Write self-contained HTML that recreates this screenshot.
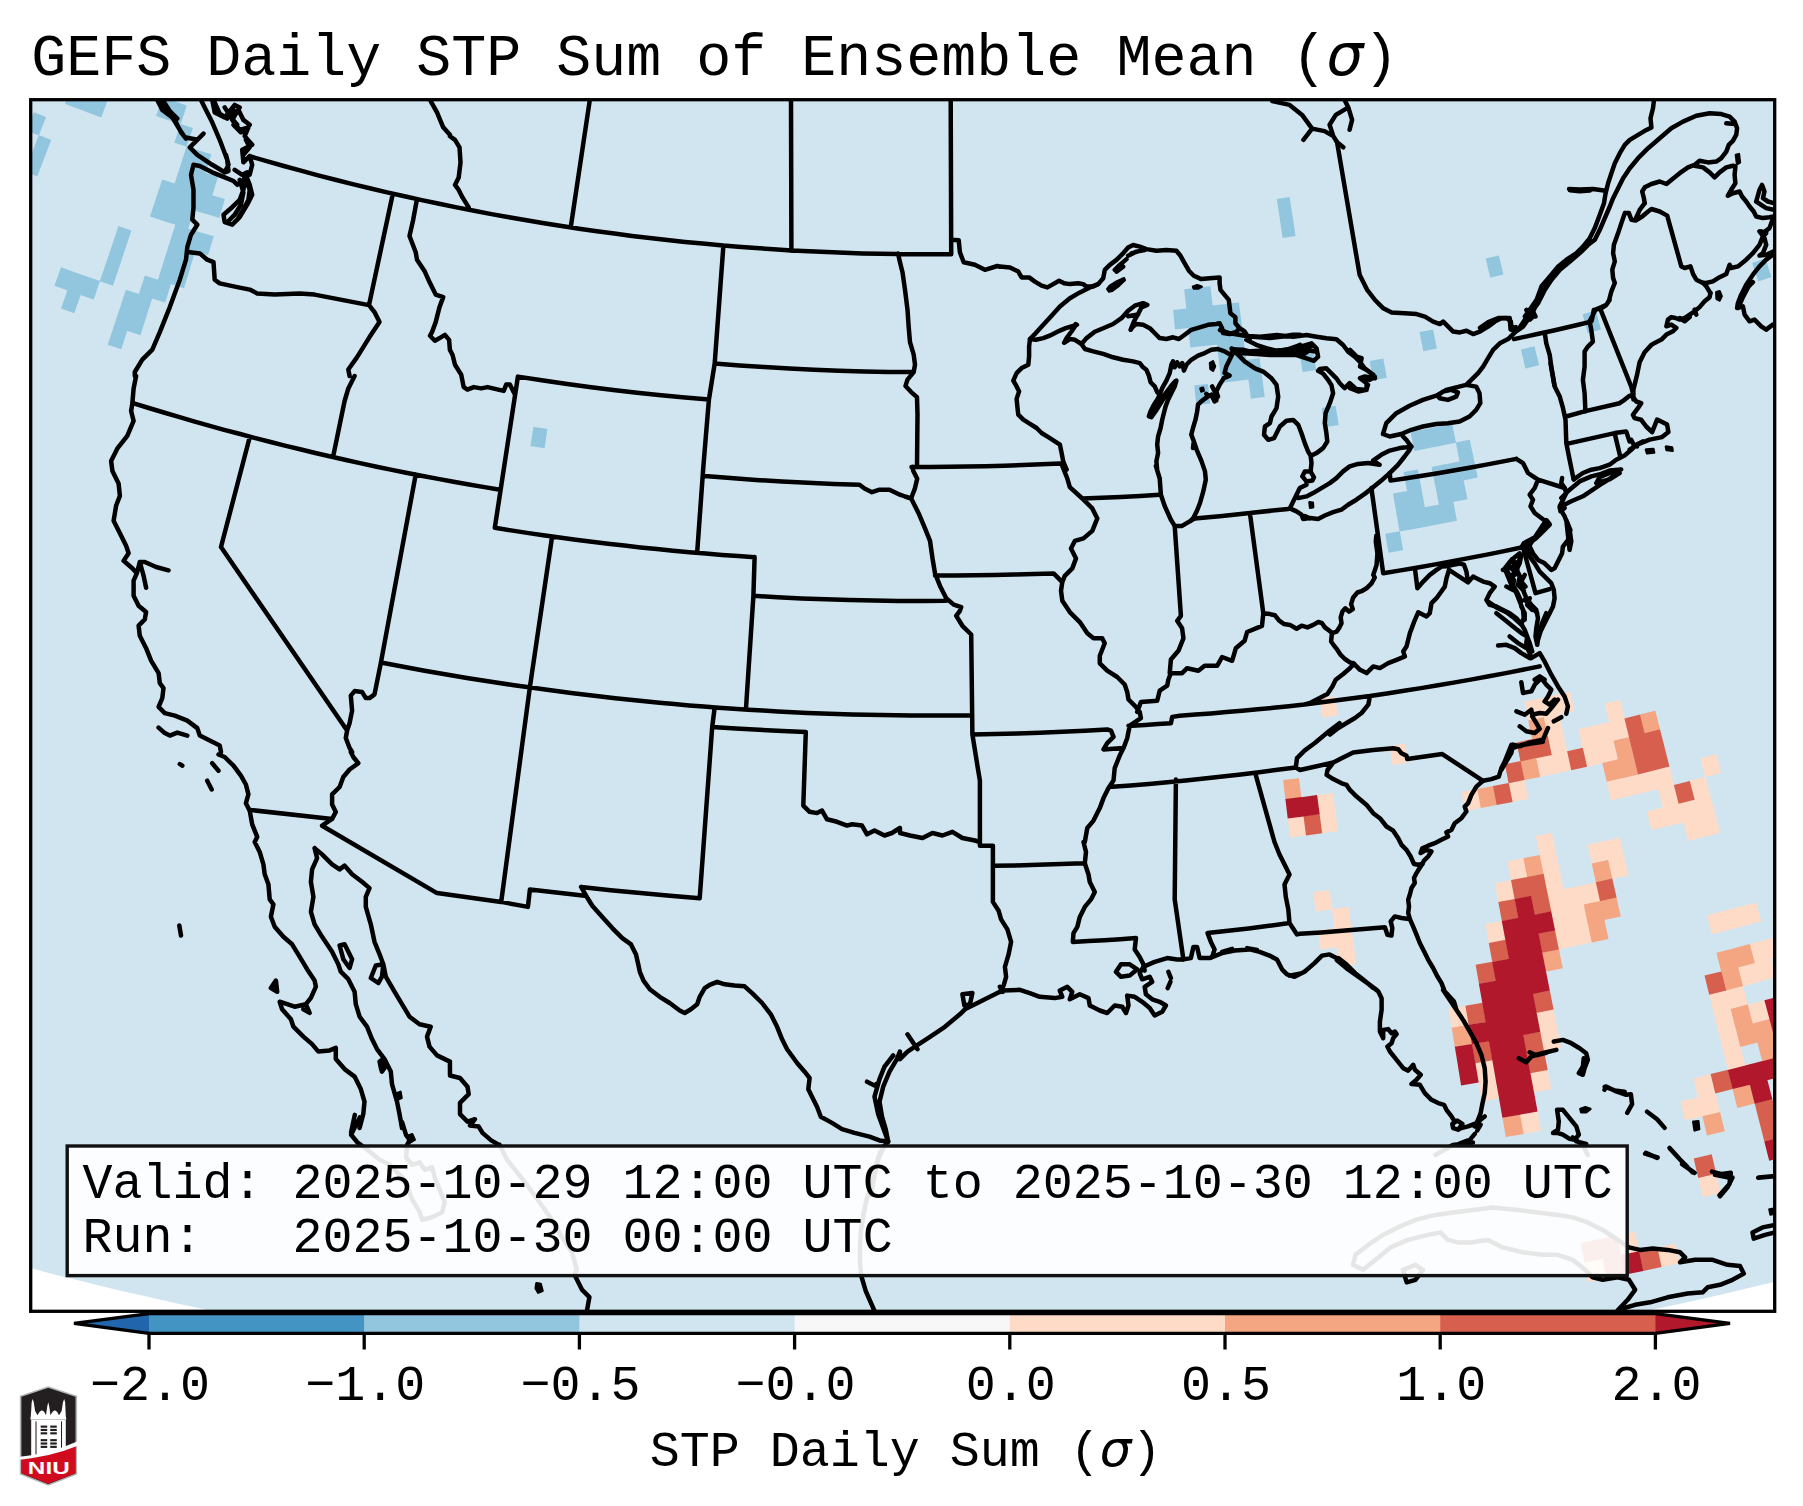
<!DOCTYPE html>
<html lang="en"><head><meta charset="utf-8"><title>GEFS Daily STP Sum of Ensemble Mean</title>
<style>html,body{margin:0;padding:0;background:#fff;}body{width:1803px;height:1506px;overflow:hidden;}svg{display:block;}text{font-family:"Liberation Mono","DejaVu Sans Mono",monospace;fill:#000;}.sg{font-family:"DejaVu Sans",sans-serif;font-style:italic;}.b{fill:none;stroke:#000;stroke-width:4.5;stroke-linejoin:round;stroke-linecap:round;}.c{fill:none;stroke:#000;stroke-width:4.5;stroke-linejoin:round;stroke-linecap:round;}</style></head><body>
<svg width="1803" height="1506" viewBox="0 0 1803 1506">
<rect width="1803" height="1506" fill="#fff"/>
<text x="31.3" y="75" font-size="58.33" xml:space="preserve">GEFS Daily STP Sum of Ensemble Mean (<tspan class="sg" font-size="58.33">σ</tspan>)</text>
<defs><clipPath id="ax"><rect x="30.7" y="99.7" width="1744.0" height="1211.6"/></clipPath></defs>
<g clip-path="url(#ax)">
<rect x="30.7" y="99.7" width="1744.0" height="1211.6" fill="#d1e5f0"/>
<path d="M1279.8 218.5 L1292.6 216.6 L1289.6 197.0 L1276.8 198.9Z M1282.6 237.9 L1295.6 235.9 L1292.6 216.3 L1279.7 218.2Z M1186.3 308.8 L1199.6 307.4 L1197.5 287.8 L1184.2 289.2Z M1199.4 307.4 L1212.7 305.9 L1210.5 286.3 L1197.3 287.8Z M1175.0 329.5 L1188.5 328.1 L1186.4 308.5 L1173.1 309.9Z M1188.3 328.1 L1201.7 326.7 L1199.6 307.1 L1186.2 308.5Z M1201.5 326.7 L1215.0 325.2 L1212.7 305.6 L1199.4 307.1Z M1214.8 325.2 L1228.2 323.6 L1225.8 304.1 L1212.5 305.6Z M1228.0 323.6 L1241.4 322.0 L1238.9 302.5 L1225.6 304.1Z M1190.3 347.4 L1203.8 345.9 L1201.7 326.4 L1188.3 327.8Z M1203.7 345.9 L1217.2 344.4 L1214.9 324.9 L1201.5 326.4Z M1217.0 344.4 L1230.5 342.8 L1228.2 323.3 L1214.7 324.9Z M1230.3 342.9 L1243.8 341.2 L1241.4 321.7 L1228.0 323.3Z M1219.2 363.6 L1232.8 362.0 L1230.5 342.5 L1217.0 344.1Z M1232.6 362.0 L1246.3 360.4 L1243.8 340.9 L1230.3 342.6Z M1221.4 382.8 L1235.1 381.2 L1232.8 361.7 L1219.2 363.3Z M1234.9 381.2 L1248.7 379.5 L1246.2 360.1 L1232.6 361.8Z M1248.5 379.5 L1262.2 377.8 L1259.6 358.3 L1246.0 360.1Z M1302.5 372.1 L1316.2 370.1 L1313.2 350.7 L1299.6 352.8Z M1196.3 405.0 L1210.2 403.5 L1208.0 384.0 L1194.3 385.5Z M1250.9 398.7 L1264.7 396.9 L1262.2 377.5 L1248.4 379.3Z M1324.7 427.2 L1338.7 425.0 L1335.6 405.8 L1321.8 407.9Z M530.5 446.1 L544.6 448.2 L547.4 428.9 L533.4 426.8Z M1490.2 277.7 L1503.4 274.6 L1498.9 255.4 L1485.8 258.5Z M1423.3 351.3 L1436.9 348.6 L1433.0 329.4 L1419.5 332.1Z M1373.1 380.3 L1386.8 377.8 L1383.3 358.6 L1369.7 361.0Z M1525.4 368.6 L1539.1 365.3 L1534.5 346.3 L1520.9 349.5Z M1587.6 333.1 L1601.0 329.5 L1595.9 310.6 L1582.6 314.2Z M1758.4 281.4 L1771.6 276.9 L1765.2 258.4 L1752.1 262.9Z M1414.2 451.0 L1428.3 448.3 L1424.6 429.2 L1410.6 431.8Z M1428.1 448.3 L1442.2 445.6 L1438.4 426.5 L1424.4 429.2Z M1442.0 445.6 L1456.0 442.8 L1452.2 423.7 L1438.2 426.5Z M1459.6 461.7 L1473.8 458.7 L1469.8 439.7 L1455.8 442.6Z M1407.1 491.3 L1421.4 488.6 L1417.9 469.5 L1403.6 472.1Z M1435.3 486.0 L1449.6 483.2 L1445.8 464.1 L1431.6 466.9Z M1449.4 483.3 L1463.7 480.4 L1459.8 461.3 L1445.6 464.2Z M1463.5 480.4 L1477.7 477.5 L1473.7 458.5 L1459.6 461.4Z M1396.3 512.6 L1410.7 510.1 L1407.3 490.9 L1392.9 493.5Z M1410.5 510.1 L1424.9 507.5 L1421.4 488.3 L1407.1 491.0Z M1438.9 504.8 L1453.3 502.0 L1449.5 482.9 L1435.3 485.7Z M1453.1 502.0 L1467.5 499.2 L1463.6 480.1 L1449.3 483.0Z M1399.6 531.5 L1414.1 528.9 L1410.7 509.8 L1396.2 512.4Z M1413.9 528.9 L1428.4 526.3 L1424.9 507.2 L1410.5 509.8Z M1428.2 526.3 L1442.7 523.6 L1439.1 504.5 L1424.7 507.2Z M1442.5 523.6 L1457.0 520.8 L1453.3 501.7 L1438.9 504.5Z M1388.5 552.8 L1403.1 550.3 L1399.8 531.2 L1385.2 533.7Z M64.9 103.7 L77.1 108.4 L84.1 89.9 L72.0 85.2Z M77.0 108.3 L89.2 112.9 L96.1 94.3 L84.0 89.8Z M89.0 112.9 L101.3 117.4 L108.1 98.8 L95.9 94.3Z M26.5 130.6 L38.9 135.5 L46.1 117.1 L33.8 112.2Z M31.7 153.5 L44.2 158.3 L51.2 139.9 L38.8 135.1Z M24.6 171.5 L37.2 176.4 L44.3 158.0 L31.8 153.2Z M156.1 116.0 L168.4 120.2 L174.7 101.4 L162.5 97.2Z M168.2 120.1 L180.6 124.2 L186.8 105.4 L174.6 101.3Z M174.3 142.7 L186.7 146.8 L192.8 127.9 L180.5 123.9Z M180.5 165.3 L193.1 169.3 L199.1 150.4 L186.6 146.4Z M192.9 169.2 L205.5 173.2 L211.4 154.3 L198.9 150.4Z M174.6 183.8 L187.2 187.8 L193.2 169.0 L180.6 165.0Z M187.0 187.8 L199.7 191.8 L205.6 172.9 L193.0 168.9Z M199.6 191.7 L212.3 195.6 L218.0 176.7 L205.4 172.8Z M156.0 198.1 L168.8 202.3 L174.8 183.6 L162.2 179.4Z M168.6 202.2 L181.4 206.3 L187.3 187.6 L174.7 183.5Z M181.2 206.3 L194.0 210.3 L199.8 191.5 L187.1 187.5Z M193.8 210.2 L206.6 214.2 L212.4 195.3 L199.6 191.4Z M206.4 214.1 L219.2 218.0 L224.9 199.1 L212.2 195.3Z M150.0 216.6 L162.8 220.8 L168.9 202.0 L156.1 197.9Z M162.6 220.7 L175.5 224.8 L181.4 206.1 L168.7 202.0Z M175.3 224.8 L188.2 228.8 L194.1 210.0 L181.3 206.0Z M169.4 243.2 L182.4 247.3 L188.3 228.5 L175.4 224.5Z M182.2 247.2 L195.3 251.3 L201.0 232.5 L188.1 228.5Z M195.1 251.2 L208.1 255.1 L213.8 236.3 L200.8 232.4Z M163.6 261.6 L176.7 265.8 L182.5 247.0 L169.5 242.9Z M176.5 265.7 L189.6 269.7 L195.3 251.0 L182.3 247.0Z M157.8 280.0 L170.9 284.2 L176.8 265.5 L163.7 261.4Z M170.8 284.1 L184.0 288.2 L189.7 269.5 L176.6 265.4Z M138.8 294.2 L152.1 298.5 L158.0 279.8 L144.9 275.6Z M151.9 298.4 L165.2 302.6 L171.0 283.9 L157.8 279.8Z M119.8 308.2 L133.1 312.6 L139.1 294.0 L125.9 289.7Z M132.9 312.5 L146.3 316.8 L152.2 298.2 L138.9 293.9Z M113.7 326.5 L127.2 330.9 L133.2 312.3 L119.9 308.0Z M127.0 330.8 L140.5 335.2 L146.4 316.6 L133.0 312.3Z M107.7 344.8 L121.3 349.2 L127.3 330.6 L113.8 326.2Z M112.2 244.7 L125.2 249.1 L131.4 230.5 L118.5 226.1Z M106.0 263.0 L119.1 267.4 L125.3 248.8 L112.3 244.4Z M99.8 281.2 L113.0 285.7 L119.2 267.1 L106.1 262.7Z M54.4 285.7 L67.6 290.4 L74.1 272.0 L61.0 267.3Z M67.4 290.4 L80.6 295.0 L87.1 276.6 L73.9 272.0Z M80.5 295.0 L93.7 299.5 L100.0 281.0 L86.9 276.5Z M61.0 308.5 L74.3 313.2 L80.7 294.7 L67.5 290.1Z" fill="#92c5de"/>
<path d="M1539.6 855.2 L1555.9 851.9 L1551.9 832.8 L1535.7 836.1Z M1511.0 880.4 L1527.4 877.2 L1523.7 858.1 L1507.3 861.3Z M1543.4 874.0 L1559.8 870.6 L1555.8 851.6 L1539.5 854.9Z M1591.8 863.8 L1608.1 860.1 L1603.8 841.1 L1587.6 844.8Z M1607.9 860.2 L1624.2 856.5 L1619.8 837.5 L1603.6 841.2Z M1498.3 902.4 L1514.9 899.2 L1511.2 880.1 L1494.8 883.2Z M1547.2 892.8 L1563.7 889.4 L1559.7 870.4 L1543.3 873.7Z M1612.1 878.9 L1628.5 875.2 L1624.1 856.2 L1607.8 859.9Z M1551.0 911.7 L1567.6 908.3 L1563.6 889.2 L1547.1 892.6Z M1567.4 908.3 L1584.0 904.8 L1579.9 885.7 L1563.4 889.2Z M1583.7 904.9 L1600.3 901.3 L1596.1 882.2 L1579.6 885.8Z M1488.9 943.2 L1505.6 940.1 L1502.0 920.9 L1485.4 924.0Z M1554.9 930.5 L1571.6 927.1 L1567.6 908.0 L1551.0 911.4Z M1571.3 927.2 L1588.0 923.6 L1583.9 904.5 L1567.3 908.0Z M1558.7 949.4 L1575.5 946.0 L1571.5 926.8 L1554.8 930.3Z M1575.2 946.0 L1592.0 942.5 L1587.9 923.3 L1571.2 926.9Z M1451.7 1028.0 L1468.9 1025.1 L1465.6 1005.7 L1448.5 1008.6Z M1540.1 1031.9 L1557.3 1028.5 L1553.5 1009.2 L1536.4 1012.6Z M1543.7 1050.9 L1561.1 1047.5 L1557.3 1028.2 L1540.0 1031.6Z M1478.4 1082.5 L1496.0 1079.4 L1492.5 1060.0 L1475.1 1063.0Z M1481.7 1101.6 L1499.3 1098.6 L1495.9 1079.2 L1478.4 1082.2Z M1533.7 1092.4 L1551.3 1089.0 L1547.6 1069.7 L1530.1 1073.0Z M1523.3 1133.9 L1541.2 1130.7 L1537.5 1111.2 L1519.8 1114.4Z M1528.3 720.8 L1543.8 717.5 L1539.8 698.5 L1524.3 701.8Z M1543.6 717.5 L1559.1 714.1 L1555.0 695.2 L1539.5 698.6Z M1558.9 714.2 L1574.4 710.7 L1570.2 691.8 L1554.7 695.3Z M1547.6 736.2 L1563.2 732.8 L1559.1 713.9 L1543.5 717.2Z M1609.2 722.3 L1624.7 718.6 L1620.2 699.7 L1604.7 703.5Z M1551.6 754.9 L1567.3 751.5 L1563.2 732.5 L1547.5 735.9Z M1582.6 748.1 L1598.3 744.5 L1594.0 725.6 L1578.3 729.2Z M1598.1 744.6 L1613.8 740.9 L1609.3 722.0 L1593.7 725.6Z M1613.6 740.9 L1629.2 737.2 L1624.7 718.3 L1609.1 722.1Z M1540.0 776.9 L1555.8 773.6 L1551.8 754.6 L1536.0 757.9Z M1555.6 773.6 L1571.5 770.2 L1567.3 751.2 L1551.5 754.6Z M1586.8 766.7 L1602.6 763.1 L1598.3 744.2 L1582.5 747.8Z M1602.4 763.2 L1618.2 759.5 L1613.7 740.6 L1598.0 744.3Z M1464.9 811.0 L1481.0 808.1 L1477.4 789.0 L1461.5 791.9Z M1512.3 802.0 L1528.4 798.8 L1524.5 779.8 L1508.6 783.0Z M1611.0 800.5 L1627.0 796.7 L1622.5 777.8 L1606.6 781.6Z M1626.8 796.8 L1642.8 793.0 L1638.2 774.1 L1622.3 777.9Z M1642.5 793.0 L1658.5 789.1 L1653.8 770.3 L1637.9 774.1Z M1658.2 789.2 L1674.2 785.2 L1669.4 766.3 L1653.6 770.3Z M1705.3 777.1 L1721.1 772.9 L1716.1 754.1 L1700.3 758.3Z M1662.9 807.8 L1678.9 803.8 L1674.1 784.9 L1658.2 788.9Z M1694.4 799.8 L1710.4 795.6 L1705.4 776.8 L1689.5 780.9Z M1651.5 830.3 L1667.7 826.3 L1663.0 807.4 L1647.0 811.4Z M1667.5 826.4 L1683.6 822.3 L1678.8 803.5 L1662.8 807.5Z M1683.4 822.4 L1699.5 818.3 L1694.6 799.4 L1678.6 803.5Z M1699.2 818.3 L1715.3 814.1 L1710.3 795.3 L1694.4 799.5Z M1688.1 841.0 L1704.3 836.8 L1699.4 818.0 L1683.3 822.1Z M1704.1 836.9 L1720.3 832.7 L1715.3 813.8 L1699.2 818.0Z M1711.7 934.3 L1728.5 930.0 L1723.5 911.0 L1706.9 915.3Z M1728.2 930.0 L1744.9 925.7 L1739.9 906.7 L1723.3 911.1Z M1744.7 925.7 L1761.3 921.3 L1756.2 902.4 L1739.7 906.8Z M1754.6 963.1 L1771.4 958.6 L1766.3 939.6 L1749.5 944.1Z M1771.2 958.6 L1788.1 954.0 L1782.8 935.1 L1766.1 939.7Z M1742.8 986.2 L1759.8 981.7 L1754.7 962.7 L1737.8 967.2Z M1759.5 981.8 L1776.5 977.2 L1771.4 958.3 L1754.5 962.8Z M1713.9 1013.5 L1731.0 1009.2 L1726.2 990.1 L1709.1 994.4Z M1730.8 1009.3 L1747.9 1004.9 L1743.0 985.8 L1725.9 990.2Z M1718.5 1032.4 L1735.8 1028.0 L1731.0 1008.9 L1713.8 1013.2Z M1752.5 1023.8 L1769.7 1019.2 L1764.7 1000.2 L1747.6 1004.7Z M1723.2 1051.3 L1740.6 1046.9 L1735.7 1027.8 L1718.5 1032.1Z M1727.9 1070.2 L1745.4 1065.8 L1740.5 1046.6 L1723.2 1051.0Z M1697.9 1097.5 L1715.6 1093.3 L1710.9 1074.0 L1693.4 1078.2Z M1685.0 1120.6 L1702.7 1116.5 L1698.1 1097.2 L1680.5 1101.3Z M1702.4 1116.5 L1720.2 1112.3 L1715.5 1093.0 L1697.9 1097.2Z M1702.7 1197.2 L1720.8 1192.9 L1716.2 1173.5 L1698.2 1177.7Z M1620.8 1255.4 L1639.3 1251.6 L1635.2 1231.9 L1616.8 1235.7Z M1588.1 1282.1 L1606.7 1278.4 L1602.8 1258.7 L1584.3 1262.3Z M1661.3 1267.2 L1679.9 1263.2 L1675.5 1243.5 L1657.1 1247.5Z M1319.4 814.4 L1335.5 812.2 L1332.9 793.0 L1316.9 795.1Z M1290.0 837.4 L1306.2 835.4 L1303.8 816.1 L1287.7 818.1Z M1321.9 833.3 L1338.1 831.2 L1335.5 811.9 L1319.4 814.1Z M1392.5 765.1 L1408.3 762.6 L1405.2 743.4 L1389.5 746.0Z M1315.6 911.5 L1332.2 909.3 L1329.6 890.0 L1313.1 892.1Z M1334.4 928.4 L1351.1 926.2 L1348.5 906.8 L1331.9 909.1Z M1320.4 949.6 L1337.2 947.4 L1334.7 928.1 L1317.9 930.2Z M1336.9 947.5 L1353.7 945.2 L1351.1 925.9 L1334.4 928.1Z M1339.5 966.5 L1356.4 964.3 L1353.7 944.9 L1336.9 947.2Z M1322.3 717.6 L1337.9 715.4 L1335.1 696.2 L1319.7 698.4Z" fill="#fddbc7"/>
<path d="M1527.2 877.3 L1543.6 874.0 L1539.7 854.9 L1523.4 858.2Z M1595.9 882.5 L1612.4 878.9 L1608.1 859.9 L1591.7 863.5Z M1587.7 923.7 L1604.4 920.1 L1600.2 901.0 L1583.7 904.6Z M1604.2 920.1 L1620.8 916.4 L1616.5 897.4 L1600.0 901.0Z M1591.8 942.5 L1608.5 938.9 L1604.4 919.8 L1587.7 923.4Z M1545.8 971.7 L1562.8 968.3 L1558.9 949.1 L1542.1 952.5Z M1454.8 1047.1 L1472.2 1044.2 L1468.9 1024.8 L1451.7 1027.7Z M1505.8 1137.1 L1523.6 1133.9 L1520.1 1114.4 L1502.4 1117.5Z M1532.2 739.5 L1547.8 736.2 L1543.8 717.2 L1528.2 720.5Z M1644.4 733.5 L1660.1 729.5 L1655.3 710.7 L1639.7 714.6Z M1524.3 780.1 L1540.2 776.9 L1536.2 757.9 L1520.4 761.1Z M1618.0 759.5 L1633.7 755.8 L1629.2 736.9 L1613.5 740.7Z M1480.8 808.1 L1496.8 805.1 L1493.1 786.0 L1477.2 789.0Z M1606.7 781.8 L1622.6 778.1 L1618.1 759.2 L1602.3 762.9Z M1622.4 778.2 L1638.2 774.4 L1633.7 755.5 L1617.9 759.3Z M1721.2 971.7 L1738.2 967.4 L1733.2 948.4 L1716.4 952.7Z M1737.9 967.4 L1754.8 963.0 L1749.8 944.0 L1733.0 948.5Z M1726.0 990.5 L1743.0 986.1 L1738.1 967.1 L1721.2 971.4Z M1735.5 1028.1 L1752.8 1023.7 L1747.8 1004.6 L1730.7 1009.0Z M1740.3 1047.0 L1757.7 1042.5 L1752.7 1023.4 L1735.5 1027.8Z M1757.4 1042.6 L1774.7 1038.0 L1769.7 1019.0 L1752.4 1023.5Z M1762.3 1061.4 L1779.7 1056.9 L1774.6 1037.8 L1757.3 1042.3Z M1737.3 1108.1 L1755.0 1103.6 L1750.1 1084.4 L1732.5 1088.8Z M1707.0 1135.6 L1724.8 1131.3 L1720.1 1112.0 L1702.4 1116.2Z M1285.4 799.4 L1301.4 797.4 L1299.0 778.2 L1283.1 780.1Z" fill="#f4a582"/>
<path d="M1514.6 899.3 L1531.2 896.1 L1527.4 876.9 L1511.0 880.1Z M1530.9 896.1 L1547.4 892.8 L1543.6 873.7 L1527.1 877.0Z M1501.9 921.3 L1518.5 918.1 L1514.8 898.9 L1498.3 902.1Z M1534.6 915.0 L1551.3 911.6 L1547.4 892.5 L1530.9 895.8Z M1600.0 901.3 L1616.6 897.6 L1612.3 878.6 L1595.8 882.3Z M1492.3 962.2 L1509.2 959.1 L1505.6 939.8 L1488.8 942.9Z M1542.1 952.7 L1558.9 949.4 L1555.0 930.2 L1538.3 933.6Z M1479.0 984.1 L1496.0 981.1 L1492.5 961.8 L1475.6 964.8Z M1468.7 1025.1 L1485.9 1022.1 L1482.5 1002.8 L1465.4 1005.8Z M1536.4 1012.9 L1553.6 1009.5 L1549.8 990.3 L1532.7 993.6Z M1475.2 1063.3 L1492.6 1060.3 L1489.2 1040.9 L1471.9 1043.9Z M1526.6 1054.2 L1544.0 1050.9 L1540.3 1031.5 L1523.0 1034.8Z M1530.2 1073.3 L1547.7 1069.9 L1543.9 1050.6 L1526.6 1053.9Z M1520.5 761.4 L1536.3 758.1 L1532.3 739.1 L1516.6 742.4Z M1536.1 758.2 L1551.8 754.9 L1547.8 735.9 L1532.1 739.2Z M1629.0 737.2 L1644.7 733.4 L1640.0 714.6 L1624.4 718.4Z M1508.6 783.3 L1524.5 780.1 L1520.7 761.1 L1504.9 764.2Z M1571.2 770.2 L1587.1 766.7 L1582.8 747.8 L1567.1 751.3Z M1633.5 755.8 L1649.3 752.0 L1644.6 733.1 L1628.9 737.0Z M1649.0 752.0 L1664.8 748.1 L1660.0 729.3 L1644.4 733.2Z M1496.6 805.1 L1512.6 802.0 L1508.8 782.9 L1492.9 786.0Z M1638.0 774.4 L1653.9 770.5 L1649.2 751.7 L1633.4 755.5Z M1653.6 770.6 L1669.5 766.6 L1664.7 747.8 L1649.0 751.7Z M1678.6 803.8 L1694.7 799.7 L1689.8 780.9 L1673.9 785.0Z M1709.2 994.7 L1726.3 990.4 L1721.4 971.4 L1704.5 975.6Z M1715.3 1093.4 L1732.9 1089.0 L1728.1 1069.8 L1710.6 1074.1Z M1759.5 1122.7 L1777.3 1118.1 L1772.3 1098.9 L1754.7 1103.4Z M1764.4 1141.7 L1782.2 1137.1 L1777.2 1117.9 L1759.5 1122.4Z M1698.2 1178.0 L1716.3 1173.8 L1711.7 1154.3 L1693.7 1158.5Z M1584.4 1262.6 L1602.9 1259.0 L1599.0 1239.3 L1580.6 1242.9Z M1602.6 1259.0 L1621.1 1255.3 L1617.1 1235.7 L1598.7 1239.3Z M1606.4 1278.5 L1625.0 1274.8 L1621.0 1255.0 L1602.5 1258.8Z M1643.1 1271.1 L1661.6 1267.1 L1657.4 1247.5 L1638.9 1251.4Z M1306.0 835.4 L1322.2 833.3 L1319.6 814.1 L1303.5 816.1Z" fill="#d6604d"/>
<path d="M1518.3 918.2 L1534.9 914.9 L1531.1 895.8 L1514.6 899.0Z M1505.4 940.2 L1522.1 937.0 L1518.4 917.8 L1501.8 921.0Z M1521.9 937.1 L1538.6 933.8 L1534.8 914.6 L1518.2 917.9Z M1538.4 933.8 L1555.1 930.5 L1551.2 911.3 L1534.6 914.7Z M1508.9 959.1 L1525.8 955.9 L1522.1 936.7 L1505.3 939.9Z M1525.5 956.0 L1542.4 952.7 L1538.6 933.5 L1521.8 936.8Z M1495.7 981.1 L1512.7 978.0 L1509.1 958.8 L1492.2 961.9Z M1512.4 978.1 L1529.4 974.9 L1525.7 955.6 L1508.9 958.8Z M1529.2 974.9 L1546.1 971.6 L1542.3 952.4 L1525.5 955.7Z M1482.3 1003.1 L1499.4 1000.1 L1495.9 980.8 L1478.9 983.8Z M1499.1 1000.1 L1516.2 997.0 L1512.6 977.7 L1495.7 980.9Z M1516.0 997.1 L1533.0 993.8 L1529.3 974.6 L1512.4 977.8Z M1532.8 993.9 L1549.8 990.6 L1546.0 971.3 L1529.1 974.6Z M1485.6 1022.2 L1502.8 1019.1 L1499.4 999.8 L1482.3 1002.9Z M1502.6 1019.2 L1519.8 1016.0 L1516.2 996.7 L1499.1 999.9Z M1519.5 1016.1 L1536.7 1012.8 L1533.0 993.5 L1515.9 996.8Z M1471.9 1044.2 L1489.2 1041.2 L1485.8 1021.9 L1468.6 1024.8Z M1489.0 1041.3 L1506.3 1038.2 L1502.8 1018.8 L1485.6 1021.9Z M1506.0 1038.2 L1523.3 1035.1 L1519.7 1015.7 L1502.5 1018.9Z M1523.1 1035.1 L1540.3 1031.8 L1536.6 1012.5 L1519.5 1015.8Z M1458.0 1066.2 L1475.4 1063.3 L1472.1 1043.9 L1454.8 1046.8Z M1492.3 1060.4 L1509.7 1057.3 L1506.2 1037.9 L1488.9 1041.0Z M1509.5 1057.3 L1526.9 1054.1 L1523.3 1034.8 L1506.0 1037.9Z M1461.1 1085.4 L1478.7 1082.4 L1475.4 1063.0 L1457.9 1065.9Z M1495.7 1079.5 L1513.2 1076.4 L1509.7 1057.0 L1492.3 1060.1Z M1512.9 1076.4 L1530.4 1073.2 L1526.8 1053.8 L1509.4 1057.0Z M1499.1 1098.6 L1516.7 1095.5 L1513.2 1076.1 L1495.6 1079.2Z M1516.4 1095.6 L1534.0 1092.3 L1530.4 1072.9 L1512.9 1076.1Z M1502.4 1117.8 L1520.1 1114.7 L1516.6 1095.2 L1499.0 1098.4Z M1519.9 1114.7 L1537.6 1111.5 L1534.0 1092.0 L1516.4 1095.3Z M1769.5 1019.3 L1786.7 1014.7 L1781.5 995.7 L1764.4 1000.3Z M1774.5 1038.1 L1791.7 1033.5 L1786.6 1014.4 L1769.4 1019.0Z M1732.6 1089.1 L1750.2 1084.7 L1745.3 1065.5 L1727.8 1069.9Z M1749.9 1084.8 L1767.5 1080.3 L1762.5 1061.1 L1745.0 1065.6Z M1767.2 1080.3 L1784.7 1075.7 L1779.6 1056.6 L1762.2 1061.2Z M1754.7 1103.7 L1772.4 1099.2 L1767.4 1080.0 L1749.8 1084.5Z M1769.2 1160.8 L1787.2 1156.2 L1782.1 1136.9 L1764.3 1141.4Z M1624.8 1274.8 L1643.3 1271.0 L1639.2 1251.3 L1620.8 1255.1Z M1287.7 818.4 L1303.8 816.4 L1301.4 797.1 L1285.4 799.1Z M1303.6 816.4 L1319.7 814.3 L1317.1 795.1 L1301.2 797.2Z" fill="#b2182b"/>
<path d="M-185.1 1204.1 L-167.1 1210.0 L-149.1 1215.8 L-131.1 1221.5 L-113.1 1227.2 L-95.0 1232.7 L-76.9 1238.1 L-58.8 1243.4 L-40.7 1248.7 L-22.5 1253.8 L-4.3 1258.8 L14.0 1263.8 L32.2 1268.6 L50.5 1273.4 L68.8 1278.0 L87.1 1282.6 L105.5 1287.0 L123.9 1291.4 L142.3 1295.6 L160.7 1299.8 L179.2 1303.9 L197.6 1307.8 L216.1 1311.7 L234.7 1315.4 L253.2 1319.1 L271.7 1322.7 L290.3 1326.1 L308.9 1329.5 L327.5 1332.8 L346.1 1335.9 L364.8 1339.0 L383.4 1342.0 L402.1 1344.8 L420.8 1347.6 L439.5 1350.3 L458.2 1352.8 L476.9 1355.3 L495.7 1357.7 L514.4 1359.9 L533.2 1362.1 L552.0 1364.2 L570.8 1366.1 L589.6 1368.0 L608.4 1369.8 L627.2 1371.4 L646.0 1373.0 L664.9 1374.5 L683.7 1375.8 L702.5 1377.1 L721.4 1378.3 L740.3 1379.3 L759.1 1380.3 L778.0 1381.1 L796.9 1381.9 L815.8 1382.6 L834.6 1383.1 L853.5 1383.6 L872.4 1383.9 L891.3 1384.2 L910.2 1384.3 L929.1 1384.4 L948.0 1384.3 L966.9 1384.2 L985.8 1383.9 L1004.6 1383.6 L1023.5 1383.1 L1042.4 1382.6 L1061.3 1381.9 L1080.2 1381.2 L1099.0 1380.3 L1117.9 1379.3 L1136.8 1378.3 L1155.6 1377.1 L1174.5 1375.9 L1193.3 1374.5 L1212.2 1373.0 L1231.0 1371.5 L1249.8 1369.8 L1268.6 1368.1 L1287.4 1366.2 L1306.2 1364.2 L1325.0 1362.2 L1343.7 1360.0 L1362.5 1357.7 L1381.2 1355.4 L1400.0 1352.9 L1418.7 1350.3 L1437.4 1347.7 L1456.1 1344.9 L1474.8 1342.0 L1493.4 1339.1 L1512.1 1336.0 L1530.7 1332.9 L1549.3 1329.6 L1567.9 1326.2 L1586.4 1322.8 L1605.0 1319.2 L1623.5 1315.5 L1642.0 1311.8 L1660.5 1307.9 L1679.0 1304.0 L1697.5 1299.9 L1715.9 1295.8 L1734.3 1291.5 L1752.7 1287.1 L1771.0 1282.7 L1789.4 1278.1 L1807.7 1273.5 L1826.0 1268.8 L1844.2 1263.9 L1862.5 1259.0 L1880.7 1253.9 L1898.9 1248.8 L1917.0 1243.6 L1935.1 1238.3 L1953.2 1232.8 L1800 1400 L0 1400Z" fill="#fff"/>
<path class="b" d="M249.6 156.2 L266.7 161.2 L283.8 166 L300.9 170.7 L318.1 175.3 L335.3 179.8 L352.6 184.1 L369.8 188.3 L387.1 192.4 L404.5 196.3 L421.8 200.1 L439.2 203.8 L456.6 207.4 L474.1 210.8 L491.5 214.1 L509 217.3 L526.5 220.3 L544.1 223.2 L561.6 226 L579.2 228.7 L596.8 231.2 L614.4 233.6 L632 235.9 L649.7 238 L667.3 240 L685 241.9 L702.7 243.6 L720.4 245.2 L738.1 246.7 L755.8 248 L773.6 249.3 L791.3 250.4 L809.1 251.3 L826.8 252.1 L844.6 252.8 L862.3 253.4 L880.1 253.8 L897.9 254.1 L915.6 254.3 L933.4 254.3 L951.2 254.2 M392.5 195.3 L369 305.1 L374.5 312.1 L379.5 322.1 L369.5 337.1 L357.1 357.1 L348.3 369.5 L349.6 376 M416.5 201.7 L413.2 219.7 L409.5 236 L415.7 252.2 L417 259.7 L424.5 270.9 L429.5 282.1 L435.7 294.6 L443.2 297.1 L439.5 307.1 L435.7 322.1 L432 332.1 L430 335.8 L430 335.8 L434.9 340.8 L440.8 337.4 L444.9 334.9 L449.1 339.9 M430.7 101.1 L437 112.4 L443.2 127.3 L449.9 134.8 M189.8 252.2 L199.8 253.4 L207.2 259.7 L213.5 262.2 L214.7 279.7 L219.7 283.4 L237.2 287.1 L249.7 289.6 L257.2 293.4 L274.7 294.6 L299.6 293.4 L314.6 294.6 L369 305.1 M133.8 403.3 L148.8 408 L163.8 412.5 L178.8 416.9 L193.9 421.3 L209 425.6 L224.1 429.8 L239.3 433.8 L254.4 437.8 L269.6 441.8 L284.8 445.6 L300.1 449.3 L315.3 453 L330.6 456.5 L345.9 460 L361.2 463.4 L376.6 466.7 L391.9 469.9 L407.3 473 L422.7 476 L438.1 478.9 L453.6 481.7 L469 484.5 L484.5 487.1 L499.9 489.7 M249.7 437.2 L221 547 L347.1 730.6 M354.6 376 L348.3 388.5 L344.6 401 L333.3 455.9 M415.7 474.6 L380.8 663.1 L374.5 694.4 L369.5 698.1 L365.8 698.1 L362 691.9 L354.6 691.1 L350.8 695.6 L352.1 710.6 L349.6 723.1 L347.1 730.6 L345.8 738 L349.6 748 L352.1 752 M249.7 809.9 L332.1 818.9 M350.8 752 L353.3 757 L358.3 763.2 L349.6 769.5 L343.3 777 L339.6 787 L332.1 794.4 L332.1 804.4 L335.8 811.9 L332.1 818.9 L322.1 825.7 L437 893.1 L501.2 901.9 L527.9 906.9 L529.9 889.4 L584.8 895.7 M589.8 100 L570.8 226.8 M791 99 L791.4 250.8 M723.4 245.6 L714.7 363.4 L708.9 399.6 L703.4 466 M714.7 363.4 L739.5 365.4 L764.4 367.1 L789.2 368.5 L814.1 369.7 L839 370.7 L863.9 371.4 L888.8 371.9 L913.7 372.1 M517.9 376.6 L541.7 380.3 L565.5 383.7 L589.3 386.9 L613.2 389.9 L637.1 392.7 L661 395.2 L685 397.5 L708.9 399.6 M517.9 376.6 L494.9 527.2 M450 136.2 L455 139.9 L459.5 147.4 L460.5 162.4 L458.7 177.4 L455 184.9 L458.7 189.9 L462.5 197.4 L468.7 207.4 M449.1 339.9 L449.9 349.9 L452.5 354.7 L455 364.7 L461.2 374.6 L463.7 387.1 L467.5 389.6 L473.7 387.1 L481.2 388.4 L487.5 387.1 L503.7 390.9 L506.2 384.6 L509.9 384.6 L514.4 393.4 M494.8 527.8 L511 530.4 L527.1 532.9 L543.3 535.2 L559.5 537.5 L575.7 539.7 L591.9 541.8 L608.1 543.8 L624.4 545.6 L640.6 547.4 L656.9 549.1 L673.1 550.7 L689.4 552.2 L705.7 553.6 L722 554.9 L738.3 556.1 L754.6 557.2 M551.9 537.9 L529.9 687 L501.2 901.9 M380.9 662.5 L395.5 665.3 L410 668 L424.6 670.7 L439.2 673.2 L453.8 675.7 L468.4 678.2 L483.1 680.5 L497.7 682.8 L512.4 685 L527.1 687.1 L541.7 689.1 L556.4 691.1 L571.1 693 L585.8 694.8 L600.6 696.6 L615.3 698.2 L630 699.8 L644.8 701.3 L659.5 702.7 L674.3 704.1 L689.1 705.4 L703.8 706.6 L718.6 707.7 L733.4 708.8 L748.2 709.7 L763 710.6 L777.8 711.5 L792.6 712.2 L807.4 712.9 L822.2 713.5 L837 714 L851.8 714.4 L866.7 714.8 L881.5 715.1 L896.3 715.3 L911.1 715.4 L925.9 715.5 L940.8 715.5 L955.6 715.4 L970.4 715.2 M703.4 466 L697.2 552.1 M704.7 476 L730.4 478.1 L756.2 479.9 L782 481.5 L807.8 482.8 L833.7 483.9 L859.5 484.7 L864.5 488.5 L872 492.2 L879.5 489.7 L889.5 489.7 L899.9 494.7 M754.6 557.1 L753.4 595.8 M753.4 595.8 L777.5 597.2 L801.5 598.4 L825.6 599.3 L849.7 600 L873.9 600.5 L898 600.9 L922.1 600.9 L946.2 600.8 M753.4 595.8 L745.9 709.7 M714.7 707.4 L712.2 726.9 L699.7 898.2 M712.2 726.9 L735.6 728.5 L759 729.8 L782.4 731 L805.8 731.9 L803.3 805.6 L809.6 811.8 L817 813.1 L822 810.6 L827 819.3 L837 821.8 L847 825.6 L852 824.3 L862 825.6 L867 834.3 L874.5 830.5 L884.5 835.5 L891.9 833 L899.9 828 M581.1 886.9 L610.7 890.2 L640.3 893.1 L670 895.8 L699.7 898.2 M581.1 886.9 L586.1 895.7 L592.3 905.7 L602.3 916.9 L612.3 928.1 L622.3 938.1 L631 944.4 L636 954.4 L638.5 965.6 L639.8 971.8 L643.5 980.6 L649.8 989.3 L659.7 996.8 L669.7 1003 L679.7 1010.5 L684.7 1013 L690.9 1009.3 L697.2 1004.3 L699.7 996.8 L704.7 988.1 L709.7 984.8 L717.2 981.8 L724.7 984.3 L734.6 985.6 L744.6 986.3 L752.1 993.1 L762.1 1003 L770.8 1014.3 L777.1 1026.8 L782.1 1039.3 L787.1 1049.2 L797.1 1063 L804.6 1071.7 L809.6 1078 L808.3 1089.2 L812 1096.7 L817 1106.7 L820.8 1116.7 L832 1122.9 L842 1129.1 L854.5 1132.9 L869.5 1136.6 L879.5 1140.4 L888.2 1141.6 M950.7 100 L951.2 253.5 M951.2 239.8 L958.7 240.3 L959.9 252.3 L963.7 262.3 L974.9 264.8 L984.9 269.8 L997.4 266 L999.9 266.8 L1000 266.6 L1010 267.4 L1018.3 271.6 L1021.6 277.4 L1029.1 277.4 L1034.9 281.6 L1041.6 285.7 L1047.4 287.4 L1053.2 284.1 L1059.1 280.7 L1064.1 283.2 L1069.9 284.1 L1078.2 283.2 L1083.2 284.1 L1086.5 286.6 L1093.2 286.6 L1098.2 284.1 M898 253.5 L900 262.3 L902.5 272.3 L905 289.8 L907.5 309.7 L908.7 327.2 L910 342.2 L913.7 354.7 L915 364.7 L913.7 372.1 L907.5 379.6 L905.5 385.9 L911.2 392.1 L917 397.1 L917.5 414.6 L917 466.8 M911.5 466.9 L930.1 466.9 L948.6 466.8 L967.2 466.6 L985.8 466.2 L1004.3 465.7 L1022.9 465.1 L1041.5 464.3 L1060 463.4 M1030 339 L1029.1 346.5 L1029.1 356.4 L1028.3 364.8 L1021.6 368.1 L1016.6 373.1 L1013.3 380.6 L1016.6 386.4 L1019.1 391.4 L1016.6 398.9 L1017.5 408 L1018.3 414.7 L1023.3 419.7 L1030 423.8 L1036.6 428 L1041.6 433 L1048.3 437.1 L1054.9 441.3 L1059.9 444.6 L1061.6 452.9 L1063.2 461.3 L1066.6 469.6 M1081.5 344 L1084.9 349 L1093.2 351.4 L1103.2 353.9 L1113.1 357.3 L1123.1 359.8 L1133.1 361.4 L1139.8 363.1 L1143.1 367.3 L1146.4 369.8 L1148.9 375.6 L1150.6 382.2 L1154.7 386.4 L1157.2 392.2 L1159.7 394.7 M899.9 494.7 L905 496.5 L911.2 498.5 M912.5 466.7 L913.2 470.7 L917.2 478.7 L914.7 489.2 L912 496 L911.2 498.5 L918.7 513.4 L925 528.4 L930 540.9 L932.5 558.4 L935 573.4 L940 585.9 L946.2 598.3 L953.7 604.6 L961.2 607.1 L959.9 610.8 L956.2 615.8 L962.4 625.8 L971.2 634.5 L972.4 734.4 L977.4 765.6 L979.9 780.6 L979.9 842 M935 575.4 L954.7 575.4 L974.5 575.3 L994.3 575 L1014 574.6 L1033.8 574.1 L1053.6 573.4 L1062.3 582.1 M972.4 734.4 L994.9 734 L1017.4 733.5 L1039.9 732.7 L1062.3 731.8 L1084.8 730.7 L1107.2 729.4 L1111 730.7 L1113.5 736.9 L1107.2 743.2 L1103.5 749.4 L1123.5 748.1 M1066.6 469.6 L1062.3 466 L1067.3 478.5 L1069.8 487.2 L1082.3 498.5 L1092.3 508.4 L1097.3 518.4 L1092.3 530.9 L1083.5 538.4 L1074.8 540.9 L1071 548.4 L1076 558.4 L1072.3 568.4 L1064.8 575.9 L1062.3 582.1 L1061 590.8 L1062.3 600.8 L1069.8 612.1 L1079.8 622.1 L1087.3 633.3 L1093.5 638.3 L1102.2 638.3 L1104.7 643.3 L1099.8 655.8 L1099.8 663.3 L1107.2 670.7 L1117.2 677 L1124.7 684.5 L1127.2 692 L1128.5 699.5 L1134.7 705.7 L1139.7 711.9 L1140.9 718.2 L1129.7 725.7 L1127.2 738.2 L1123.5 748.1 L1119.7 755.6 L1114.7 768.1 L1113.5 780.6 L1108.5 788.1 L1103.5 798.1 L1099.8 808.1 L1093.5 820.6 L1087.3 828 L1084.8 842 M1082.3 498.5 L1101.6 497.7 L1121 496.9 L1140.3 495.9 L1159.7 494.7 M1174.7 525.9 L1180.9 615.8 L1177.2 620.8 L1182.1 628.3 L1183.4 638.3 L1178.4 650.8 L1170.9 659.5 L1169.7 673.2 M1137.2 711.9 L1140.9 702 L1157.2 700.7 L1159.7 690.7 L1167.2 685.7 L1168.4 679.5 L1170.9 673.2 L1182.1 673.2 L1187.1 668.2 L1198.4 670.7 L1204.6 665.8 L1217.1 665.8 L1222.1 657 L1232.1 660.8 L1235.8 648.3 L1244.6 640.8 L1247.1 632 L1262 625.8 L1263.3 613.3 L1270 614.1 L1275 615.3 L1279.2 620.7 L1284.1 624.1 L1290 624.9 L1296.6 628.7 L1301.6 625.7 L1307.4 627.4 L1313.3 624.9 L1318.3 622 L1322 623.2 L1324.9 627.4 L1329.9 631.1 L1332 633.2 M1128.5 725.7 L1132.2 725.7 L1145.1 724.9 L1158 724.1 L1170.9 723.2 L1172.2 716.9 L1179.7 715.7 L1195.3 714.6 L1210.9 713.4 L1226.5 712.1 L1242.1 710.8 L1257.7 709.3 L1273.3 707.8 L1288.9 706.2 L1304.5 704.5 L1369.9 695.9 M1304.5 704.5 L1309.5 703.2 L1327.4 694 L1332.4 686.5 L1335.7 679.8 L1343.2 674 L1349.9 668.2 L1354 663.6 M1112.2 786.8 L1130.6 785.4 L1149 783.9 L1167.4 782.2 L1185.8 780.4 L1204.2 778.5 L1222.5 776.5 L1240.8 774.4 L1259.2 772.2 L1277.5 769.8 L1295.8 767.4 L1300 770 L1333.3 762.5 M1295.8 767.4 L1297 758.1 L1304.5 750.6 L1314.5 743.2 L1329.5 730.7 L1339.5 723.2 L1330 734.6 L1338.3 728 L1346.6 723 L1355 718 L1361.6 713 L1368.3 704.7 L1369.9 696.4 M1175.9 779.4 L1174.7 899.4 L1183.4 959.4 M1255.8 775.1 L1274.5 842 M899.9 828 L900 833 L910 835.5 L922.5 838 L932.5 833 L942.4 835.5 L952.4 831.8 L962.4 838 L974.9 840.5 L979.9 842 M979.9 845.7 L992.9 845.7 L992.9 901.9 L998.6 910.7 L1001.1 919.4 L1007.4 929.4 L1011.1 941.9 L1008.6 954.4 L1004.9 966.8 L1006.1 976.8 L1003.6 985.6 L999.9 991.8 M979.9 842 L979.9 845.7 M992.9 865.7 L1015.5 865.4 L1038.2 864.8 L1060.9 864.1 L1083.5 863.2 M1084.8 842 L1083.5 842 L1086 852 L1084.8 863.2 L1088.5 874.5 L1089.8 882 L1094.8 891.9 L1091 899.4 L1084.8 906.9 L1079.8 916.9 L1077.3 926.9 L1073.5 933.1 L1072.8 941.9 L1072.8 941.9 L1088.6 941.1 L1104.4 940.2 L1120.2 939.2 L1136 938.1 L1134.7 949.4 L1139.7 956.9 L1143.4 964.3 L1144.7 970.6 M1212.1 956.9 L1214.6 949.4 L1210.9 941.9 L1207.6 933.1 L1207.6 933.1 L1228.1 930.8 L1248.6 928.4 L1269.1 925.8 L1289.5 923.1 M1274.5 842 L1279.5 854.5 L1285.8 867 L1289.5 874.5 L1284.5 884.4 L1285.8 896.9 L1288.3 909.4 L1289.5 923.1 L1297 934.4 M1194.6 518.4 L1208.5 517.2 L1222.3 515.9 L1236.1 514.5 L1249.9 513 L1288.2 508.9 M1249.9 513 L1263.3 613.3 M1411.3 446.5 L1406.3 439.8 L1403 436.5 M1371.4 488.1 L1383.2 573.2 M1389.7 473.1 L1390.5 480.6 L1390.5 480.6 L1406.3 478.2 L1422.1 475.7 L1437.8 473.2 L1453.6 470.5 L1469.3 467.7 L1485 464.9 L1500.7 461.9 L1516.4 458.9 M1337.1 142.3 L1359.6 274.7 L1367 289.6 L1375 300 L1383.3 308.3 L1391.6 312.5 L1404.9 313.3 L1416.6 314.1 L1424.9 316.6 L1433.2 321.6 L1439.9 324.1 L1443.2 321.6 L1448.2 326.6 L1453.2 331.6 L1459.8 332.4 L1466.5 330.8 L1473.1 334.1 L1479.8 331.6 L1488.1 326.6 L1494.8 321.6 L1501.4 318.3 L1509.7 318 L1510.6 329.6 L1516.4 330.8 M1644.7 203.2 L1639.7 209.8 L1635.6 219 M1624.8 213.1 L1628.9 213.1 L1631.4 219.8 L1635.6 220.6 L1642.2 216.5 L1648.1 211.5 L1651.4 209 L1659.7 211.5 L1667.2 215.6 L1681.3 266.4 L1684.7 268 L1690.5 266.4 L1693 273.9 L1696.3 279.7 L1703 283 L1706.3 286.3 L1710.4 293 M1624.8 213.1 L1621.4 223.1 L1618.1 233.1 L1613.9 244.8 L1613.1 253.1 L1614.8 261.4 L1612.3 269.7 L1613.1 278 L1614.8 283 L1611.4 291.3 L1609 300.5 L1606.5 304.7 L1601.5 307.1 L1595.6 309.6 L1593.1 314.6 L1591.5 321.3 M1513.9 339.1 L1526.8 336.4 L1539.7 333.5 L1552.6 330.7 L1565.5 327.7 L1578.3 324.7 L1591.1 321.6 M1600.6 309.6 L1631.2 386.5 L1632.9 393.2 M1589.6 321.3 L1592.9 315 L1593.8 310 L1601.2 308.3 L1606.2 305 L1609.6 300 M1589.6 321.3 L1591.3 330 L1592.9 341.6 L1587.9 346.6 L1584.6 351.6 L1584.6 366.6 L1582.9 379.9 L1584.6 393.2 L1585.4 411.5 M1544.7 332.4 L1546.3 343.3 L1549.7 354.9 L1551.3 366.6 L1553 376.5 L1554.7 386.5 L1559.7 396.5 L1563 408.2 L1565.5 419.8 L1566.3 443.1 L1569.6 459.7 L1573 476.4 L1573.8 479.4 M1566 416.5 L1585.4 411.1 L1619.6 403.2 L1624.5 399.8 L1629.5 395.7 L1632.9 396.5 M1566.8 443.9 L1614.6 433.1 L1626.2 431.4 L1629.5 441.4 M1614.6 433.1 L1620.4 457.2 M1516.4 458.9 L1523 463.1 L1528 473 L1533 476.4 L1538 479.7 L1564.6 488 M1538 479.7 L1534.7 488 L1529.7 494.7 L1533 499.7 L1530.5 506.3 L1534.7 513 L1541.3 518 L1549.7 524.6 L1543 531.3 L1536.4 537.9 L1529.7 542.9 L1524.7 546.3 L1526.4 549.9 L1546.3 520 L1549.6 524.2 L1541.3 531.6 L1536.3 536.6 L1529.7 540.8 L1525.5 545 M1383.2 573.2 L1400.6 570.4 L1417.9 567.5 L1435.2 564.4 L1452.5 561.2 L1469.7 557.9 L1486.9 554.6 L1504.2 551.1 L1521.3 547.5 L1523.8 543.3 L1529.7 540 L1536.3 536.6 M1523 547.5 L1535.5 593.2 L1549.6 589.1 M1468.1 582.4 L1473.1 576.6 L1476.4 578.2 L1483.1 581.6 L1489.7 583.2 L1494.7 586.6 L1489.7 593.2 L1486.4 599.9 L1489.7 604.9 L1496.4 606.5 L1503 609.9 L1509.7 613.2 L1516.4 618.2 L1521.3 624 M1414.9 568.3 L1417.4 588.2 L1423.2 581.6 L1429.8 574.9 L1436.5 569.9 L1441.5 566.6 L1446.5 566.3 L1453.1 564.9 L1459.8 563.6 L1463.9 564.6 L1466.4 571.6 L1468.1 582.4 L1449 569.9 L1446.5 578.2 L1444.8 586.6 L1436.5 598.2 L1431.5 603.2 L1429.8 613.2 L1426.5 616.5 L1418.2 612.3 L1414.9 619.8 L1409.9 633.1 L1406.5 646.5 L1403.2 651.4 L1404.9 656.4 L1396.6 659.8 L1388.2 663.1 L1379.9 668.1 L1373.3 666.4 L1366.6 673.1 L1360 669.8 L1353.3 663.1 L1354 663.6 L1349.9 662.3 L1344.9 659 L1340.7 654.9 L1337.4 649.9 L1334.1 645.7 L1331.1 641.5 L1331.6 636.6 L1332 633.2 M1332 633.2 L1336.6 631.6 L1339.5 627.4 L1341.5 623.2 L1340.7 617.4 L1342.4 611.6 L1345.3 608.3 L1349 611.6 L1352.8 609.1 L1351.1 604.1 L1353.2 597.5 L1357.4 592.5 L1361.5 591.2 L1366.5 588.3 L1371.5 583.3 L1374.8 577.5 L1373.3 574.9 L1376.6 564.9 L1377.4 553.3 L1375.8 541.6 L1376.3 535.8 M1369.9 695.9 L1387 693.4 L1404 690.8 L1421 688.1 L1438 685.3 L1455 682.4 L1472 679.4 L1488.9 676.3 L1505.8 673.1 L1522.8 669.8 L1539.7 666.4 M1333.3 762.5 L1341.6 758.3 L1353.2 752.5 L1373.2 750 L1393.2 748.3 L1398.2 749.2 L1401.5 753.3 L1406.5 755.8 L1407.3 759.1 L1424.8 756.6 L1442.3 754.1 L1483 780.8 M1333.3 762.5 L1327.5 770 L1326.6 774.9 L1333.3 779.1 L1341.6 783.3 L1346.6 784.9 L1349.9 789.9 L1356.6 796.6 L1366.6 804.9 L1373.2 813.2 L1379.9 818.2 L1386.5 826.5 L1393.2 830.7 L1398.2 838.2 L1401.5 844.8 L1406.5 849.8 L1410.6 856.5 L1414 864 L1418.1 864.8 L1422.3 864 M1297 934.4 L1300 933.8 L1321.2 932.4 L1342.4 930.8 L1363.6 929.1 L1384.9 927.2 L1387.4 934.7 L1391.5 935.5 L1392.3 928 L1390.7 921.4 L1394.8 916.4 L1401.5 918 L1409 918.9"/>
<path class="c" d="M193.5 164.8 L191 174.8 L193.5 189.8 L193.5 207.2 L192.3 219.7 L197.3 224.7 L191 234.7 L187.3 247.2 L186 259.7 L179.8 279.7 L169.8 307.1 L159.8 332.1 L152.3 349.6 L142.3 359.6 L134.8 372 L134.8 376 M193.5 164.8 L199.8 166 L212.2 172.3 L224.7 177.3 L233.5 181 L237.2 184.8 L243.4 179.8 L245.9 174.8 L249.7 184.8 L252.2 194.8 L247.2 204.7 L239.7 217.2 L232.2 224.7 L224.7 222.2 L223.5 214.7 L232.2 207.2 L239.7 199.8 L243.4 189.8 L245.9 174.8 M249.7 156.1 L252.2 164.8 L249.7 174.8 L245.9 174.8 M157.3 99.9 L162.3 109.9 L172.3 117.4 L179.8 129.8 L184.8 137.3 L197.3 139.8 L203.5 133.6 L189.8 147.3 L197.3 154.8 L212.2 164.8 L224.7 172.3 L228.5 171 L227.2 159.8 L219.7 139.8 L212.2 122.3 L204.7 107.4 L201 99.9 M212.2 99.9 L214.7 112.4 L224.7 117.4 L234.7 104.9 L239.7 107.4 L232.2 119.9 L239.7 129.8 L248.4 127.3 L244.7 136.1 L252.2 144.8 L242.2 149.8 L243.4 162.3 L249.7 156.1 M159.8 102.4 L166 112.4 L174.8 119.9 L181 132.3 L186 138.6 M163.5 101.1 L169.8 111.1 L177.3 118.6 M214.7 102.4 L219.7 113.6 L227.2 118.6 L233.5 109.9 M233.5 124.8 L240.9 132.3 L247.2 129.8 M245.9 139.8 L249.7 147.3 L243.4 154.8 M224.7 107.4 L231 117.4 L237.2 124.8 M238.5 109.9 L243.4 119.9 L249.7 124.8 M245.9 179.8 L249.7 189.8 L248.4 199.8 L243.4 209.7 L237.2 219.7 M239.7 179.8 L243.4 192.3 L240.9 204.7 L234.7 214.7 L228.5 221 M234.7 169.8 L242.2 174.8 L247.2 172.3 M226 154.8 L228.5 164.8 L224.7 172.3 M136.1 376 L133.6 388.5 L132.3 404 L131.1 411 L133.6 420.9 L127.3 435.9 L117.4 448.4 L111.1 460.9 L112.4 470.9 L118.6 483.4 L119.9 495.9 L116.1 505.8 L113.6 520.8 L119.9 533.3 L126.1 545.8 L128.6 553.3 L123.6 560.8 L132.3 568.3 L136.8 573.3 L133.6 580.7 L133.6 595.7 L138.6 605.7 L146.1 612 L144.8 619.4 L138.6 625.7 L139.8 635.7 L146.1 648.2 L151.1 660.6 L158.6 673.1 L159.8 683.1 L163.5 688.1 L162.3 698.1 L158.6 706.8 L164.8 713.1 L174.8 715.6 L187.3 720.6 L197.3 728.1 L199.8 735.6 L212.2 741.8 L219.7 745.5 L221 752 M136.8 573.3 L139.8 562 L144.8 562 L156.1 567 L168.5 570.3 M139.8 562 L143.6 575.8 L146.1 587.7 M158.6 727.6 L164.8 733.1 L169.8 735.6 L177.3 732.6 L187.3 735.6 M218.5 754.5 L224.7 757 L233.5 765.7 L240.9 775.7 L245.9 784.5 L248.4 794.4 L245.9 803.2 L249.7 810.7 L252.2 824.4 L257.2 836.9 L254.7 841.9 L259.7 851.9 L263.4 864.4 L264.7 874.3 L268.4 884.3 L269.7 899.3 L273.4 904.3 L270.9 916.8 L274.7 926.8 L283.4 936.8 L292.1 944.3 L299.6 956.7 L307.1 969.2 L314.6 980.5 L315.9 986.7 L310.9 997.9 L305.9 1004.2 L294.6 1006.7 L279.7 1001.7 L282.1 1009.2 L290.9 1019.2 L293.4 1026.7 L303.4 1036.6 L312.1 1044.1 L318.4 1051.6 L329.6 1050.4 L335.8 1047.9 L335.8 1059.1 L344.6 1069.1 L354.6 1076.6 L360.8 1089.1 L364.5 1101.6 L363.3 1114 L359.6 1128 M305.9 1004.2 L309.6 1012.9 L303.4 1009.2 M314.6 848.1 L317.1 858.1 L312.1 869.4 L310.9 881.8 L313.4 896.8 L310.9 911.8 L314.6 924.3 L322.1 936.8 L332.1 951.8 L338.3 964.2 L340.8 971.7 L348.3 979.2 L354.6 991.7 L355.8 1004.2 L359.6 1016.7 L367 1026.7 L372 1039.1 L377 1049.1 L384.5 1059.1 L390.8 1071.6 L392 1084.1 L397 1101.6 L399.5 1114 L402 1128 M380.8 1060.4 L384.5 1067.9 L382 1071.6 M314.6 848.1 L322.1 854.4 L332.1 864.4 L339.6 869.4 L344.6 865.6 L352.1 874.3 L362 881.8 L369.5 888.1 L365.8 896.8 L365.8 906.8 L370.8 924.3 L374.5 941.8 L379.5 954.2 L383.3 964.2 L385.8 976.7 L394.5 991.7 L402 1004.2 L409.5 1016.7 L419.5 1024.2 L430.7 1026.7 L427 1036.6 L429.5 1046.6 L437 1055.4 L449.9 1061.6 M375.8 965.5 L383.3 964.2 L382 976.7 L378.3 983 L370.8 978 L375.8 965.5 M339.6 945.5 L344.6 944.3 L352.1 959.2 L349.6 968 L343.3 959.2 L339.6 945.5 M179.8 764 L182.3 765.7 M212.2 763.2 L218.5 770.7 M207.2 780.7 L211.7 789.5 M179.3 925.5 L181 935.5 M270.9 988 L275.9 980.5 L277.2 991.7 L270.9 988 M899.9 1051.7 L896.9 1059.2 L889.5 1071.7 L883.2 1086.7 L879.5 1101.7 L882 1116.7 L885.7 1129.1 L888.2 1141.6 M893.2 1055.5 L884.5 1066.7 L879.5 1079.2 L874.5 1096.7 L878.2 1114.2 L884.5 1131.6 L888.2 1141.6 M867 1081.7 L874.5 1085.4 L878.2 1082.9 M449.9 1061.6 L450 1075.5 L460 1078 L467.5 1086.7 L468.7 1094.2 L460 1102.9 L460 1114.2 L467.5 1121.7 L475 1119.2 L470 1125.4 L478.7 1126.6 L482.5 1132.9 L491.2 1140.4 L499.9 1145.4 M1030 339 L1035.8 333.1 L1043.3 324.8 L1051.6 315.7 L1059.9 306.5 L1069.9 298.2 L1079.9 292.4 L1089.9 287.4 L1098.2 284.1 L1103.2 278.2 L1104.8 269.9 L1109.8 264.9 L1116.5 259.9 L1123.1 253.3 L1128.1 247.5 L1133.1 245 L1139.8 246.6 L1146.4 249.1 L1156.4 250.8 L1166.4 250 L1176.4 250.8 L1180.5 255.8 L1184.7 263.3 L1188.9 270.7 L1193.8 275.7 L1201.3 279.1 L1209.7 278.2 L1219.6 277.4 L1219.6 283.2 L1220.5 289.9 L1224.6 294.9 L1228.8 299.9 L1229.6 306.5 L1230.4 313.2 L1235.4 317.3 L1235.4 323.2 L1239.6 328.2 L1244.6 331.5 L1247.9 336.5 L1249.6 339.8 M1114.8 269.9 L1119.8 264.9 L1126.5 259.1 M1116.5 271.6 L1123.1 266.6 M1128.1 255.8 L1136.4 251.6 L1144.8 250 M1131.4 253.3 L1139.8 250.8 M1030 339 L1035.8 339.8 L1043.3 338.1 L1051.6 334.8 L1059.9 330.6 L1065.7 328.2 L1071.5 326.5 L1075.7 325.2 L1071.5 331.5 L1066.6 338.1 L1064.1 342.8 L1069.9 339 L1074.9 339.8 L1081.5 344 L1086.5 338.1 L1094.8 331.8 L1103.2 328.2 L1113.1 324 L1121.5 318.2 L1128.1 310.7 L1134.8 305.7 L1143.1 303.2 L1147.3 304.9 L1141.4 307.4 L1138.1 314 L1133.9 321.5 L1130.6 329.8 L1133.1 326.5 L1136.4 324 L1143.1 324.8 L1149.8 328.2 L1155.6 334 L1159.7 338.1 L1166.4 339 L1173 337.3 L1178.9 339 L1184.7 334.8 L1191.3 329.8 L1199.7 327.3 L1208 324.8 L1216.3 324 L1219.6 323.2 L1222.1 328.2 L1223 333.1 L1229.6 334 L1236.3 331.8 L1239.6 328.2 M1128.1 316.2 L1138.1 314.5 M1075.7 324 L1076.9 324.8 M1159.7 394.7 L1157.2 399.7 L1153.9 404.7 L1150.6 411.3 L1148.9 416.3 L1151.4 417.2 L1155.6 411.3 L1159.7 404.7 L1163.9 398 L1168.1 391.4 L1172.2 384.7 L1176.4 380.6 L1174.7 386.4 L1171.4 393 L1168.1 399.7 L1165.6 406.4 L1163.9 413 L1162.2 419.7 L1160.6 428 L1158.1 436.3 L1157.2 444.6 L1158.1 452.9 L1156.4 461.3 L1157.2 469.9 M1159.7 394.7 L1162.2 388.1 L1166.4 380.6 L1169.7 373.1 L1171.4 364.8 L1173 361.4 L1174.7 367.3 L1177.2 362.3 L1179.7 366.4 L1182.2 363.1 L1183.9 370.6 L1186.4 364.8 L1191.3 359.8 L1198 355.6 L1204.7 353.1 L1211.3 349.8 L1218 349 L1224.6 351.4 L1230.4 354.8 L1232.9 351.8 L1236.3 349.5 L1242.9 349.8 L1249.6 351.4 L1259.6 351.4 M1232.9 353.1 L1229.6 359.8 L1226.3 366.4 L1224.6 373.1 L1229.6 375.6 L1223.8 378.1 L1219.6 384.7 L1216.3 391.4 L1218 396.4 L1214.6 401.4 L1211.3 394.7 L1208 396.4 L1201.3 401.4 L1198 404.7 L1197.2 411.3 L1195.5 419.7 L1193 428 L1191.3 434.6 L1193.8 441.3 L1193 448 M1212.1 386.4 L1215.5 393 L1216.3 400.5 M1206.3 393.9 L1208.3 395.5 M1249.6 339.8 L1249.6 336.5 L1259.6 337.3 L1269.6 338.1 L1282.9 336.5 L1292.8 334.8 L1300 334.8 M1246.3 339.8 L1256.2 344.8 L1266.2 348.1 L1276.2 350.6 L1286.2 349.8 L1296.2 346.5 L1300 344.8 M1152.2 414.7 L1158.1 405.5 L1164.7 394.7 L1171.4 385.6 L1175.5 381.1 M899.9 1051.7 L900 1059.2 L907.5 1051.7 L915 1046.7 L930 1036.8 L944.9 1026.8 L959.9 1014.3 L964.9 1009.3 L979.9 1001.8 L994.9 994.3 L1002.4 990.6 L1019.9 989.8 L1029.8 993.1 L1039.8 996.8 L1054.8 998.1 L1062.3 996.8 L1059.8 990.6 L1067.3 986.8 L1072.3 991.8 L1069.8 999.3 L1079.8 994.3 L1088.5 998.1 L1089.8 1005.5 L1099.8 1010.5 L1107.2 1013 L1114.7 1005.5 L1122.2 1006.8 L1126 1013 L1128.5 1005.5 L1127.2 995.6 L1134.7 996.8 L1142.2 1001.8 L1149.7 1008 L1154.7 1015.5 L1162.2 1011.8 L1165.9 1005.5 L1159.7 1001.8 L1152.2 999.3 L1145.9 994.3 L1144.7 986.8 L1152.2 981.8 L1149.7 976.8 L1142.2 979.3 L1139.7 973.1 L1143.4 966.8 L1154.7 961.9 L1167.2 958.1 L1177.2 959.4 L1183.4 959.4 L1190.9 958.1 L1193.4 946.9 L1197.1 946.9 L1199.6 958.1 L1209.6 958.1 L1222.1 953.1 L1234.6 950.6 L1249.6 949.4 L1259.6 951.9 L1269.5 955.6 L1277 959.4 L1282 969.3 L1287 974.3 L1294.5 976.8 L1304.5 971.8 L1314.5 963.1 L1322 955.6 L1329.5 954.4 L1339.5 959.4 M907.5 1034.3 L912.5 1041.8 L917.5 1049.2 M962.4 994.3 L972.4 993.1 L969.9 1004.3 L964.4 1005.5 L962.4 994.3 M999.9 986.8 L1002.9 991.8 M1116 971.8 L1121 964.3 L1129.7 964.3 L1137.2 969.3 L1129.7 975.6 L1121 976.8 L1116 971.8 M1168.4 971.8 L1170.9 978.1 M1170.4 981.8 L1167.7 988.1 M1222.1 951.9 L1232.1 948.9 M1247.1 948.1 L1257.1 949.9 M1289.5 975.6 L1299.5 973.8 M1193.3 439.8 L1196.7 449.8 L1201.6 461.4 L1205 471.4 L1205.8 479.8 L1203.3 491.4 L1200 503 L1196.7 511.4 L1193.3 518 L1190 521.3 L1194.6 518.4 L1182.1 525.9 L1174.7 525.9 L1170.9 519.7 L1164.7 506 L1160.9 494.7 L1159.7 478.5 L1155.9 466 M1157.2 469.9 L1155.9 466 M1220 330 L1229.9 333.3 L1244.9 335.8 L1259.9 336.7 L1276.5 335 L1293.2 336.7 L1306.5 335 L1316.5 336.7 L1326.4 338.3 L1336.4 339.2 L1343.1 345 L1348.1 351.6 L1354.7 356.6 L1359.7 361.6 L1364.7 368.3 L1371.4 373.3 L1374.7 376.6 L1369.7 379.9 L1364.7 376.6 L1361.4 378.3 L1368 384.9 L1366.4 389.9 L1356.4 389.1 L1349.7 383.2 L1344.7 388.2 L1339.8 383.2 L1336.4 378.3 L1331.4 373.3 L1326.4 368.3 L1319.8 369.1 L1318.1 370.8 L1323.1 373.6 L1328.1 379.9 L1331.4 384.9 L1333.1 393.2 L1329.8 403.2 L1325.6 413.2 L1324.8 423.2 L1326.4 433.2 L1327.3 441.5 L1323.1 448.1 L1316.5 453.1 L1311.5 455.6 M1231.6 348.6 L1246.6 351.6 L1259.9 350.8 L1273.2 352.5 L1283.2 350 L1293.2 348.3 L1303.1 345.8 L1311.5 343.3 L1316.5 348.3 L1318.1 356.6 L1314 360.8 L1306.5 358.3 L1296.5 355 L1283.2 355 L1269.9 355 L1256.6 354.1 L1243.2 353.3 L1233.3 352.5 L1231.6 348.6 M1296.5 348.3 L1304.8 345.8 L1309.8 350 L1304.8 353.3 L1298.2 351.6 L1296.5 348.3 M1234.9 351.6 L1244.9 361.6 L1254.9 368.3 L1263.2 371.6 L1271.5 378.3 L1276.5 384.9 L1278.2 396.6 L1276.5 408.2 L1271.5 416.5 L1269.9 423.2 L1264.9 426.5 L1264 434.8 L1268.2 439.8 L1274 438.2 L1276.5 433.2 L1279.9 426.5 L1286.5 420.7 L1293.2 419.9 L1298.2 424.8 L1301.5 433.2 L1304.8 443.1 L1308.1 451.5 L1310.6 455.6 L1311.5 463.1 L1310.6 471.4 L1304.8 471.4 L1302.3 476.4 L1306.5 481.4 L1312.3 480.6 L1314 477.3 L1311.5 473.1 L1310.6 471.4 M1306.5 481.4 L1306.5 484.7 L1299.8 488.1 L1296.5 494.7 L1293.2 501.4 L1289.8 508.4 M1296.5 494.7 L1298.2 498.1 L1306.5 496.4 L1313.1 493.1 L1321.4 488.1 L1329.8 483.1 L1336.4 478.1 L1343.1 471.4 L1349.7 466.4 L1358.1 463.9 L1368 463.1 L1379.7 464.8 L1373 460.6 L1381.3 454.8 L1389.7 450.6 L1399.7 448.1 L1406.3 447.3 L1411.3 446.5 L1409.6 449.8 L1404.6 456.5 L1398 464.8 L1389.7 473.1 L1381.3 480.6 L1372.2 488.1 L1364.7 493.9 L1356.4 499.7 L1348.1 504.7 L1341.4 509.7 L1333.1 512.2 L1324.8 515.5 L1318.1 518.9 L1309.8 518 L1303.1 518.9 L1301.5 514.7 L1296.5 511.4 L1289.8 508.4 M1304.8 516 L1309.8 518.4 M1383 434 L1386.3 423.2 L1396.3 413.2 L1409.6 405.7 L1422.9 399.9 L1436.3 395.7 L1446.2 389.9 L1456.2 387.4 L1466.2 384.9 L1476.2 386.6 L1479.5 393.2 L1480.3 403.2 L1476.2 409.9 L1469.5 416.5 L1459.6 421.5 L1447.9 423.2 L1436.3 424 L1422.9 426.5 L1411.3 429.8 L1401.3 434 L1389.7 436.5 L1383 434 M1437.9 395.7 L1442.9 391.6 L1451.2 389.9 L1457.9 392.4 L1456.2 396.6 L1447.9 399.9 L1439.6 398.2 L1437.9 395.7 M1234.9 350.3 L1246.6 352.5 L1259.9 352.1 L1273.2 353.6 L1283.2 352 L1293.2 350 L1303.1 347.5 L1313.1 345.8 M1239.9 351.3 L1256.6 353 L1273.2 354.5 L1289.8 352.5 L1306.5 350 L1315.6 351.6 M1272.2 101.1 L1289.6 104.9 L1302.1 114.9 L1312.1 128.6 L1303.4 139.8 M1312.1 128.6 L1324.6 131.1 L1333.3 136.1 L1329.6 124.8 L1335.8 114.9 L1342.1 111.1 L1348.3 107.4 L1344.6 99.9 M1348.3 107.4 L1352.1 119.9 L1349.6 129.8 M1333.3 136.1 L1337.1 142.3 L1343.3 147.3 M1466.2 384.9 L1478.1 373.2 L1483.1 366.6 L1488.1 358.2 L1493.1 349.9 L1499.8 343.3 L1508.1 339.1 L1513.9 333.3 L1519.7 327.5 L1524.7 320 L1529.7 311.6 L1534.7 306.7 L1538 300 M1514.7 332.4 L1523 326.6 L1528.9 318.3 L1533.9 310 L1536.4 303.3 M1526.4 310 L1533 311.6 L1535.5 316.6 L1530.5 315.8 L1526.4 310 M1480 327.9 L1488.3 322.1 L1498.3 318 L1506.6 318 L1510.8 321.3 L1511.6 327.9 L1515.8 327.1 M1529.9 309.6 L1536.6 299.7 L1541.6 286.3 L1549.9 276.4 L1558.2 266.4 L1566.5 259.7 L1576.5 253.1 L1583.2 246.4 L1589.8 238.1 L1594.8 228.1 L1599.8 214.8 L1604 203.2 L1605.6 193.2 L1608.1 183.2 L1611.4 173.2 L1614.8 163.2 L1619.8 153.2 L1624.8 144.9 L1629.8 139.9 L1638.1 134.9 L1646.4 129.9 L1651.4 127.4 L1650.5 118.3 L1653 108.3 L1653.9 100.8 M1569 189 L1579.8 189.5 L1593.1 189 L1605.6 190.7 M1569.9 190.2 L1579.8 191.2 L1589.8 190.5 M1529.9 314.6 L1538.2 303 L1544.9 289.7 L1551.5 279.7 L1559.9 269.7 L1569.9 261.4 L1579.8 253.1 L1588.2 244.8 L1594.8 239.8 L1599.8 229.8 L1604.8 218.1 L1609.8 206.5 L1613.1 198.2 L1618.1 188.2 L1623.1 178.2 L1629.8 168.2 L1638.1 158.2 L1648.1 148.2 L1659.7 138.3 L1671.3 128.3 L1683 121.6 L1696.3 115.8 L1709.6 113.3 L1721.3 114.1 L1729.6 116.6 L1734.6 121.6 L1737.1 128.3 L1736.2 134.9 L1732.9 140.8 L1728.8 144.9 L1726.3 151.6 L1721.3 158.2 L1716.3 161.6 L1708 162.4 L1699.6 160.7 L1694.6 164.9 L1688 167.4 L1679.7 173.2 L1671.3 179.9 L1666.4 184 L1659.7 181.5 L1651.4 184 L1644.7 187.3 L1642.2 191.5 L1643.9 198.2 L1644.7 203.2 M1529.9 309.6 L1533.2 316.3 L1529.9 319.6 L1524.9 316.3 L1529.9 309.6 M1726.3 123.3 L1734.6 124.1 M1694.6 165.7 L1703 167.4 L1709.6 172.4 L1714.6 177.4 L1719.6 172.4 L1726.3 167.4 L1732.9 165.7 L1735.4 166.5 L1734.6 174.9 L1735.4 183.2 L1731.2 189.8 L1727.9 195.7 L1732.9 193.2 L1739.6 191.5 L1742.1 196.5 L1746.2 201.5 L1749.6 206.5 L1753.7 211.5 L1756.2 216.5 L1762.9 218.1 L1769.5 217.3 L1773.7 216.5 M1703 282.7 L1706.3 283 L1712.9 281.4 L1719.6 277.2 L1726.3 273.9 L1729.6 264.7 L1731.2 268 L1737.9 266.4 L1746.2 259.7 L1752.9 253.1 L1759.5 244.8 L1762.9 236.4 L1766.2 233.1 L1761.2 231.4 M1710.4 293 L1709.6 297.2 L1704.6 301.3 L1699.6 307.1 L1694.6 311.3 L1689.7 314.6 L1684.7 318 L1679.7 319.6 L1675.5 318 L1671.3 317.1 L1668 319.6 L1666.4 326.3 L1671.3 324.6 L1676.3 327.9 L1673 331.3 L1666.4 334.6 L1661.4 339.6 L1654.7 342.9 L1651.4 344.9 L1644.6 352.2 L1639.6 362.2 L1637.1 374.6 L1633.4 389.6 L1633.4 399.6 M1679.7 318 L1684.7 321.3 L1689.7 317.1 M1694.6 309.6 L1696.3 314.6 M1773.7 251.4 L1766.2 254.7 L1759.5 255.6 L1762.9 253.1 L1766.2 244.8 L1764.5 238.1 L1759.5 231.4 L1762.9 233.1 L1769.5 228.1 L1773.7 216.5 M1772.8 254.7 L1766.2 259.7 L1759.5 266.4 L1752.9 274.7 L1746.2 284.7 L1741.2 294.7 L1737.9 303 L1737.1 308 L1742.9 306.3 L1744.6 314.6 L1749.6 321.3 L1754.5 319.6 L1761.2 326.3 L1766.2 329.6 L1772.8 324.6 M1738.2 308 L1742.9 297.2 L1748.7 286.3 L1752.9 282.2 M1756.2 201.5 L1759.5 189.8 L1762 184.9 L1764.5 191.5 L1762.9 198.2 L1767.9 201.5 L1773.7 203.2 M1756.2 201.5 L1761.2 204.8 L1766.2 208.1 L1773.7 209.8 M1550.5 363.2 L1552.2 373.2 L1554.3 384.9 M1632.9 393.2 L1632.9 396.5 L1636.2 401.5 L1641.2 403.2 L1637.9 408.2 L1632.9 414.8 L1634.5 418.1 L1641.2 419.8 L1646.2 426.5 L1652.1 432.1 L1657.1 419.6 L1667.1 424.6 L1668.4 432.1 L1662.1 437.1 L1649.6 439.6 L1637.1 444.6 L1629.7 449.6 L1642.8 441.4 L1636.2 444.8 L1631.2 449.8 L1624.5 455.6 L1616.2 459.7 L1609.6 464.7 L1599.6 468.1 L1591.3 469.7 L1582.9 473 L1573.8 479.4 M1631.2 439.8 L1633.7 444.8 L1637 446.4 M1561.3 498 L1569.6 489.7 L1579.6 481.4 L1591.3 476.4 L1601.2 473.9 L1609.6 470.5 L1621.2 469.4 L1609.6 473 L1599.6 477.2 L1596.3 483 L1609.6 479.4 L1619.6 473 L1612.9 476.7 L1602.9 483 L1592.9 489.7 L1582.9 496.3 L1571.3 501.3 L1561.3 506.3 M1562.1 478 L1561.3 483 L1564.6 488 L1566.3 493 L1563 499.7 L1559.7 506.3 L1560.5 511.3 L1564.6 508 M1559.7 508 L1564.6 516.3 L1569.6 529.6 L1571.3 541.3 L1569.6 549.9 L1566.3 520 L1570.4 530 L1567.9 540 L1562.9 546.6 L1562.1 553.3 L1558 561.6 L1554.6 568.3 L1551.3 569.9 L1544.6 563.3 L1538 559.9 L1533 553.3 L1529.7 546.6 L1526.3 545 M1350 349.9 L1356.7 356.6 L1361.6 358.2 L1360 366.6 L1366.6 369.9 L1373.3 374.9 L1375 378.2 L1365 376.5 L1360 378.2 L1366.6 383.2 L1366.6 389.9 L1358.3 391.5 L1350 388.2 M1526.3 545 L1526.3 550 L1529.7 556.6 L1534.7 563.3 L1539.7 571.6 L1546.3 578.2 L1551.3 583.2 L1553.8 589.9 L1554.6 598.2 L1553 606.5 L1548 616.5 L1544.6 623.2 L1540.5 631.5 L1538 639.8 L1537.2 644.8 M1546.3 613.2 L1542.1 623.2 L1538.8 634.8 M1519.7 553.3 L1511.4 559.9 L1504.7 568.3 L1508 576.6 L1511.4 584.9 L1516.4 593.2 L1519.7 601.5 L1523 609.9 L1523.8 618.2 L1521.3 624 L1524.7 629.8 L1527.2 636.5 L1526.3 643.1 L1527.2 648.1 L1529.7 653.1 L1531.3 658.1 L1539.7 653.1 M1521.3 554.9 L1519.7 563.3 L1516.4 569.9 L1519.7 576.6 L1518 584.9 L1523 589.9 L1526.3 598.2 L1531.3 604.9 L1536.3 609.9 L1538 618.2 L1536.3 628.2 L1535.5 636.5 L1537.2 644.8 M1503 569.9 L1508.9 565.8 L1513 569.9 M1506.4 586.6 L1513 589.9 M1524.7 574.9 L1521.3 581.6 L1525.5 586.6 M1529.7 598.2 L1527.2 604.9 L1532.2 609.9 M1488.1 601.5 L1496.4 607.4 L1506.4 612.3 L1514.7 618.5 L1521.3 624.5 M1496.4 613.2 L1504.7 619.8 L1513 626.5 L1521.3 633.1 L1527.2 636.5 M1509.7 636.5 L1518 643.1 L1526.3 648.1 M1498.1 645.6 L1506.4 644.8 L1514.7 648.1 L1521.3 653.1 L1529.7 658.1 M1539.7 653.1 L1544.6 661.4 L1551.3 674.7 L1558 686.4 L1564.6 696.4 L1567.9 706.4 L1566.3 713.8 M1561.3 717.2 L1553.8 721.3 M1521.3 682.2 L1523 693 L1531.3 691.4 L1534.7 684.7 L1541.3 678.1 L1546.3 684.7 L1551.3 689.7 L1548 696.4 L1544.6 701.4 L1549.6 704.7 L1554.6 699.7 M1516.4 711.3 L1524.7 714.7 L1531.3 709.7 L1532.2 714.7 L1539.7 713 L1546.3 713.8 L1551.3 708 L1558 699.7 M1519.7 726.3 L1526.3 731.3 L1534.7 733 L1539.7 728.8 L1536.3 723 L1532.2 716.3 M1534.7 679.7 L1539.7 676.4 L1544.6 679.7 M1548 728 L1543 739.6 L1536.3 741.3 L1528 743 L1519.7 746.3 L1513 744.6 L1511.4 752.9 L1506.4 761.3 L1501.4 769.9 L1511.3 745 L1509.7 755 L1504.7 761.6 L1501.3 768.3 L1498.8 776.6 L1491.3 779.1 L1483 780.8 L1476.4 786.6 L1471.4 794.9 L1468.1 803.2 L1464.7 806.6 L1466.4 811.5 L1461.4 818.2 L1454.7 823.2 L1451.4 829.9 L1446.4 832.3 L1448.1 836.5 L1441.4 839.8 L1434.8 843.2 L1428.1 845.7 L1422.3 848.2 L1420.6 853.1 L1426.5 849.8 L1431.4 851.5 L1428.1 856.5 L1424 860.6 L1422.3 864 L1419 869 L1416.5 873.1 L1414 878.1 L1414.8 883.1 L1411.5 888.1 L1409.8 894.7 L1408.2 899.7 L1409 906.4 L1408.2 913 L1409.8 918.9 L1413.1 926.4 L1416.5 934.7 L1419.8 943 L1424 951.3 L1428.1 959.6 L1433.1 968 L1437.3 976.3 L1441.4 982.9 L1444.1 989.9 M1542.9 741.7 L1532.9 743.3 L1521.3 745 L1514.6 747.5 L1511.3 745 M1339.5 959.4 L1338.3 958 L1346.6 964.6 L1354.9 972.9 L1363.2 979.6 L1373.2 987.9 L1376.5 989.9 M1512.2 559.1 L1506.4 567.4 L1508.9 575.7 L1512.2 584.1 L1517.2 592.4 L1521.3 601.5 M1520.5 555.8 L1518 564.1 L1517.2 570.7 L1520.5 577.4 L1519.7 584.9 L1523.8 590.7 M1514.7 561.6 L1513 568.3 L1514.7 574.9 M1510.5 574.9 L1513.9 579.9 L1513 586.6 M1524.7 599.9 L1528.8 603.2 L1533 608.2 L1537.2 613.2 M1521.3 606.5 L1524.7 613.2 L1524.7 619.8 M1527.2 636.5 L1529.7 643.1 L1532.2 651.4 M1444.1 989.9 L1443.1 990 L1449.8 999.9 L1456.5 1009.9 L1463.1 1019.9 L1469.8 1031.5 L1476.4 1043.2 L1481.4 1054.8 L1484.7 1068.2 L1485.6 1081.5 L1484.7 1093.1 L1482.2 1104.8 L1480.6 1113.1 L1478.1 1119.7 L1474.8 1126.4 M1443.1 990 L1446.5 993.3 L1454 1001.6 L1456.5 1009.9 M1444.8 991.6 L1451.5 999.1 M1484.7 1116.4 L1476.4 1123.1 L1468.1 1126.4 L1461.4 1128.1 L1458.1 1129.7 L1453.1 1128.1 L1452.3 1123.9 L1457.3 1120.6 L1462.3 1123.9 L1458.1 1129.7 M1376.5 989.9 L1336.7 960 L1346.6 968.3 L1358.3 976.6 L1369.9 985 L1378.3 991.6 L1381.6 998.3 L1381.6 1009.9 L1379.9 1021.6 L1379.9 1031.5 L1383.2 1038.2 L1383.2 1029.9 L1388.2 1029.1 L1391.6 1033.2 L1394.9 1031.5 L1396.6 1034 L1393.2 1038.2 L1391.6 1043.2 L1387.4 1046.5 L1389.9 1051.5 L1396.6 1059.8 L1403.2 1068.2 L1408.2 1070.6 L1413.2 1064.8 L1414.9 1069.8 L1420.7 1074.8 L1416.5 1079.8 L1411.5 1084 L1419.9 1084.8 L1424.8 1093.1 L1431.5 1099.8 L1438.2 1103.1 L1444 1104.8 L1446.5 1109.8 L1451.5 1116.4 L1454.8 1121.4 M1480.6 1124.7 L1477.3 1130.5 M1474.8 1133.9 L1470.6 1138.9 M1467.3 1140.5 L1459 1143.9 M1518.9 1058.2 L1526.3 1062.3 L1531.3 1056.5 L1536.3 1054.8 L1546.3 1052.3 L1556.3 1049.9 M1529.7 1052.3 L1536.3 1055.2 L1546.3 1052.8 M1553.8 1041.5 L1562.9 1039.9 L1571.3 1043.2 L1579.6 1048.2 L1586.2 1053.2 L1587.9 1059.8 L1584.6 1068.2 L1582.9 1074.8 L1578.8 1073.1 L1582.9 1066.5 L1583.7 1058.2 M1557.1 1109.8 L1562.9 1109.8 L1569.6 1118.1 L1576.3 1126.4 L1578.8 1134.7 L1574.6 1139.7 L1569.6 1138.9 L1562.9 1134.7 L1558 1133 L1553 1133 L1558 1129.7 L1558.8 1121.4 L1557.1 1109.8 M1576.3 1141.4 L1586.2 1143.9 M1604.5 1089.8 L1606.2 1086.5 L1616.2 1091.4 L1626.2 1094.8 L1630.9 1094.2 L1632.1 1104.2 L1627.2 1112.9 M1604.7 1086.7 L1614.7 1090.4 L1624.7 1091.7 M1647.1 1111.7 L1657.1 1119.2 L1664.6 1127.9 M1669.6 1147.9 L1679.6 1159.1 L1687.1 1166.6 M1645.9 1152.9 L1657.1 1157.9 M1682.1 1164.1 L1694.6 1172.8 M1712 1171.6 L1722 1174.1 L1730.8 1172.8 L1729.5 1184.1 L1719.5 1195.3 M1758.2 1177.8 L1772 1176.6 M1645.1 1153.7 L1657.6 1157.5 M1670.1 1148.7 L1685.1 1165 L1692.6 1172.4 M1715 1174.9 L1727.5 1177.4 L1732.5 1177.4 L1727.5 1187.4 L1720 1196.2 M1758.7 1177.4 L1772.5 1176.2 M1775 1224.9 L1762.5 1227.4 L1752.5 1232.4 L1753.7 1238.6 L1765 1234.9 L1775 1232.4 M1628.9 1247.4 L1640.1 1249.9 L1652.6 1248.6 L1667.6 1249.9 L1680.1 1252.3 L1685.1 1257.3 L1680.1 1262.3 L1695.1 1259.8 L1712.6 1259.8 L1727.5 1264.8 L1740 1266.1 L1743.8 1273.6 L1732.5 1279.8 L1720 1284.8 L1707.6 1287.3 L1702.6 1292.3 L1687.6 1293.5 L1667.6 1297.3 L1650.1 1302.3 L1635.1 1304.8 L1622.7 1308.5 L1617.7 1310.3 M1628.9 1247.4 L1617.7 1239.9 L1602.7 1229.9 L1587.7 1222.4 L1572.7 1217.4 L1557.7 1214.9 L1537.8 1212.4 L1517.8 1209.9 L1492.8 1207.4 L1472.9 1209.9 L1452.9 1212.4 L1435.4 1214.9 L1415.4 1219.9 L1397.9 1227.4 L1383 1234.9 L1368 1244.9 L1355.5 1254.8 L1353 1264.8 L1363 1269.8 L1375.5 1259.8 L1390.5 1247.4 L1407.9 1239.9 L1427.9 1234.9 L1440.4 1232.4 L1447.9 1239.9 L1457.9 1242.4 L1470.4 1242.4 L1487.8 1239.9 L1502.8 1247.4 L1522.8 1252.3 L1542.8 1254.8 L1557.7 1254.8 L1572.7 1259.8 L1585.2 1269.8 L1592.7 1277.3 L1602.7 1279.8 L1617.7 1277.3 L1628.9 1279.8 L1635.1 1289.8 L1627.7 1299.8 L1617.7 1310.3 M1402.9 1269.8 L1415.4 1264.8 L1422.9 1269.8 L1415.4 1279.8 L1406.7 1282.3 L1402.9 1269.8 M1435.4 1155 L1452.9 1145 L1472.9 1142.5 M1572.7 1137.5 L1582.7 1145 L1587.7 1155 M359.8 1117.4 L354.8 1127.3 L351.1 1134.8 L357.3 1142.3 L367.3 1149.8 L379.8 1159.8 L389.8 1164.8 L404.7 1179.8 L412.2 1199.7 L419.7 1212.2 L422.2 1219.7 L432.2 1217.2 L442.2 1212.2 L444.7 1202.2 L439.7 1189.7 L434.7 1177.3 L432.2 1167.3 L424.7 1169.8 L419.7 1162.3 L412.2 1164.8 L406 1157.3 L407.2 1144.8 L409.7 1139.8 L406 1134.8 L402.2 1122.4 M354.8 1114.9 L351.1 1132.3 M499.6 1144.8 L507.1 1159.8 L517 1172.3 L527 1184.7 L539.5 1202.2 L552 1219.7 L562 1237.2 L571.9 1252.1 L576.9 1269.6 L574.4 1274.6 L576.9 1279.6 L581.9 1289.6 L589.4 1297.1 L586.9 1310.8 M888 1142 L885.6 1144.4 L880 1153 L876.8 1162 L873 1175 L870 1188.7 L866 1202 L863.4 1215 L861 1230 L860 1246 L860 1262 L861 1275 L865.7 1290.8 L874.5 1311 M884 1146 L878 1160 L874 1178 L871 1195"/>
<path d="M1107.3 289.1 L1109.8 285.7 L1116.5 281.6 L1124 278.2 L1124.8 280.2 L1119 285.7 L1112.3 290.7 L1109 291.5Z M1193 286.6 L1197.2 285.2 L1201.7 286.6 L1198 288.6 L1193.8 288.6Z M1210 363.1 L1213 361.4 L1215 366.4 L1213 370.6 L1210.5 368.9Z M1200.5 388.4 L1203 387.7 L1203.7 390.7 L1201.3 391.4Z M1309.5 502.2 L1312.8 502.7 L1313.1 507.2 L1310.1 507.7Z M1735.9 154.9 L1738.9 154.1 L1739.9 162.4 L1737.1 164.1Z M1716.3 292.2 L1719.6 291.3 L1721.6 296.3 L1719.6 300.5 L1716.6 298.8Z M1665.9 446.6 L1672.1 447.6 L1672.6 450.8 L1666.6 450Z M1645.9 449.6 L1653.4 449.1 L1654.1 452.5 L1647.1 453.3Z M1580.4 1108.9 L1585.4 1107.3 L1590.4 1108.9 L1586.2 1112.2 L1581.2 1112.2Z M1693.3 1121.7 L1698.3 1121.2 L1699.1 1129.1 L1694.6 1130.4Z M1769.5 1209.4 L1773.7 1208.7 L1774.5 1213.6 L1770.5 1214.4Z M407.2 1136.1 L412.2 1134.3 L414.7 1139.8 L409.7 1142.8Z M396 1093.7 L400.5 1091.9 L401.5 1097.9 L397.2 1099.9Z M378.5 1061.2 L383.5 1060 L384.8 1068.7 L380.3 1069.9Z M536.5 1283.3 L540.7 1284.1 L542.5 1290.8 L538.2 1292.6 L535.7 1288.3Z" fill="#000" stroke="#000" stroke-width="2.5" stroke-linejoin="round"/>
</g>
<rect x="67.2" y="1146" width="1560" height="129.6" fill="#fff" fill-opacity="0.9" stroke="#111" stroke-width="3.4"/>
<text x="82.5" y="1198" font-size="50" xml:space="preserve">Valid: 2025-10-29 12:00 UTC to 2025-10-30 12:00 UTC</text>
<text x="82.5" y="1251.6" font-size="50" xml:space="preserve">Run:   2025-10-30 00:00 UTC</text>
<rect x="30.7" y="99.7" width="1744.0" height="1211.6" fill="none" stroke="#000" stroke-width="3.3"/>
<polygon points="74.0,1323.4499999999998 149.0,1313.6 149.0,1333.3" fill="#2166ac"/>
<rect x="149.0" y="1313.6" width="215.7" height="19.700000000000045" fill="#4393c3"/>
<rect x="364.2" y="1313.6" width="215.7" height="19.700000000000045" fill="#92c5de"/>
<rect x="579.4" y="1313.6" width="215.7" height="19.700000000000045" fill="#d1e5f0"/>
<rect x="794.6" y="1313.6" width="215.7" height="19.700000000000045" fill="#f7f7f7"/>
<rect x="1009.8" y="1313.6" width="215.7" height="19.700000000000045" fill="#fddbc7"/>
<rect x="1225.0" y="1313.6" width="215.7" height="19.700000000000045" fill="#f4a582"/>
<rect x="1440.2" y="1313.6" width="215.7" height="19.700000000000045" fill="#d6604d"/>
<polygon points="1730.0,1323.4499999999998 1655.4,1313.6 1655.4,1333.3" fill="#b2182b"/>
<polygon points="74.0,1323.4499999999998 149.0,1313.6 1655.4,1313.6 1730.0,1323.4499999999998 1655.4,1333.3 149.0,1333.3" fill="none" stroke="#000" stroke-width="3.3" stroke-linejoin="miter"/>
<line x1="149.0" y1="1333.3" x2="149.0" y2="1349.5" stroke="#000" stroke-width="3.3"/>
<text x="150.0" y="1400.4" font-size="50" text-anchor="middle">−2.0</text>
<line x1="364.2" y1="1333.3" x2="364.2" y2="1349.5" stroke="#000" stroke-width="3.3"/>
<text x="365.2" y="1400.4" font-size="50" text-anchor="middle">−1.0</text>
<line x1="579.4" y1="1333.3" x2="579.4" y2="1349.5" stroke="#000" stroke-width="3.3"/>
<text x="580.4" y="1400.4" font-size="50" text-anchor="middle">−0.5</text>
<line x1="794.6" y1="1333.3" x2="794.6" y2="1349.5" stroke="#000" stroke-width="3.3"/>
<text x="795.6" y="1400.4" font-size="50" text-anchor="middle">−0.0</text>
<line x1="1009.8" y1="1333.3" x2="1009.8" y2="1349.5" stroke="#000" stroke-width="3.3"/>
<text x="1010.8" y="1400.4" font-size="50" text-anchor="middle">0.0</text>
<line x1="1225.0" y1="1333.3" x2="1225.0" y2="1349.5" stroke="#000" stroke-width="3.3"/>
<text x="1226.0" y="1400.4" font-size="50" text-anchor="middle">0.5</text>
<line x1="1440.2" y1="1333.3" x2="1440.2" y2="1349.5" stroke="#000" stroke-width="3.3"/>
<text x="1441.2" y="1400.4" font-size="50" text-anchor="middle">1.0</text>
<line x1="1655.4" y1="1333.3" x2="1655.4" y2="1349.5" stroke="#000" stroke-width="3.3"/>
<text x="1656.4" y="1400.4" font-size="50" text-anchor="middle">2.0</text>
<text x="905.6" y="1466.2" font-size="50" text-anchor="middle" xml:space="preserve">STP Daily Sum (<tspan class="sg">σ</tspan>)</text>
<g transform="translate(10,1376) scale(0.07968)">
<polygon points="480,138 832,254 832,1230 480,1367 133,1230 133,254" fill="#231f20" stroke="#b4b4b4" stroke-width="20" stroke-linejoin="miter"/>
<path d="M146 1040 Q 520 1005 820 878 L820 1222 L480 1352 L146 1222 Z" fill="#d10a1e"/>
<path d="M255 545 L262 500 L272 330 L285 288 L298 330 L315 440 L345 492 L372 450 L400 430 L428 450 L452 492 L468 380 L480 328 L492 380 L508 492 L535 450 L562 430 L590 450 L615 492 L648 440 L665 330 L680 288 L692 330 L700 500 L707 545 Z" fill="#fff"/>
<path d="M266 545 L700 545 L700 905 Q 480 985 266 1010 Z" fill="#fff"/>
<rect x="320" y="570" width="13" height="420" fill="#231f20"/><rect x="640" y="570" width="13" height="340" fill="#231f20"/>
<rect x="385" y="622" width="82" height="27" fill="#231f20"/>
<rect x="385" y="664" width="82" height="27" fill="#231f20"/>
<rect x="385" y="706" width="82" height="27" fill="#231f20"/>
<rect x="385" y="792" width="82" height="27" fill="#231f20"/>
<rect x="385" y="834" width="82" height="27" fill="#231f20"/>
<rect x="385" y="876" width="82" height="27" fill="#231f20"/>
<rect x="505" y="622" width="82" height="27" fill="#231f20"/>
<rect x="505" y="664" width="82" height="27" fill="#231f20"/>
<rect x="505" y="706" width="82" height="27" fill="#231f20"/>
<rect x="505" y="792" width="82" height="27" fill="#231f20"/>
<rect x="505" y="834" width="82" height="27" fill="#231f20"/>
<rect x="505" y="876" width="82" height="27" fill="#231f20"/>
<path d="M123 1012 Q 500 978 842 822 L842 880 Q 520 1012 123 1050 Z" fill="#fff"/>
<text x="487" y="1224" font-family="'Liberation Sans',Arial,sans-serif" font-weight="700" font-size="212" fill="#fff" text-anchor="middle" textLength="525" lengthAdjust="spacingAndGlyphs" style="fill:#fff;font-family:'Liberation Sans',Arial,sans-serif">NIU</text>
</g>
</svg></body></html>
